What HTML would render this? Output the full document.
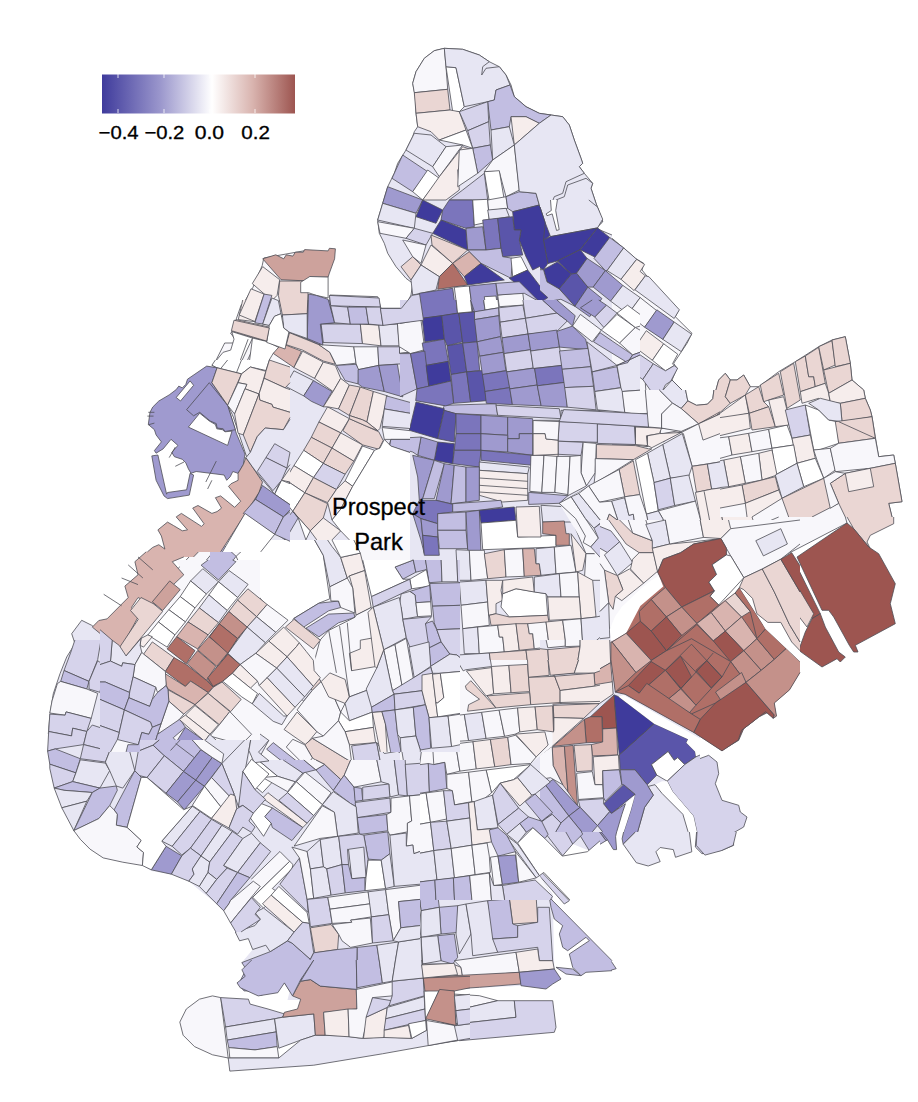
<!DOCTYPE html>
<html><head><meta charset="utf-8"><title>Map</title>
<style>
html,body{margin:0;padding:0;background:#fff;}
body{width:918px;height:1102px;overflow:hidden;position:relative;font-family:"Liberation Sans",sans-serif;}
svg{position:absolute;left:0;top:0;}
svg polygon,svg polyline,svg path{stroke:#4e4e55;stroke-width:0.8;stroke-linejoin:round;}
.t{font-family:"Liberation Sans",sans-serif;fill:#000;stroke:#000;stroke-width:0.3;}
</style></head><body>
<svg width="918" height="1102" viewBox="0 0 918 1102">
<defs><linearGradient id="lg" x1="0" x2="1" y1="0" y2="0">
<stop offset="0" stop-color="#3f3b9c"/><stop offset="0.3" stop-color="#9a96cc"/><stop offset="0.57" stop-color="#ffffff"/><stop offset="0.78" stop-color="#d9b4af"/><stop offset="1" stop-color="#9d5550"/>
</linearGradient></defs>
<g id="map">
<polygon points="444.3,48.3 462.7,49.3 479.3,55.0 489.3,61.7 499.3,66.7 506.0,75.0 511.0,85.0 514.3,96.7 526.0,106.7 539.3,113.3 551.0,115.0 562.7,116.7 569.3,125.0 574.3,140.0 581.0,158.3 582.7,163.3 579.3,166.7 584.3,173.3 592.7,183.3 591.0,188.3 596.0,203.3 602.7,221.7 596.0,228.3 612.0,235.0 612.0,367.0 306.0,367.0 306.0,343.3 322.7,343.3 321.0,320.0 330.0,315.0 330.0,295.0 377.7,296.7 381.0,308.3 401.0,308.3 406.0,305.0 411.0,295.0 412.7,283.3 406.0,278.3 396.0,266.7 387.7,253.3 384.3,243.3 379.3,233.3 377.7,220.0 382.7,203.3 387.7,186.7 394.3,173.3 397.7,163.3 406.0,150.0 412.7,136.7 414.3,131.7 417.7,126.7 416.0,113.3 415.3,96.7 412.7,83.3 416.0,71.7 424.3,58.3 434.3,50.7" fill="#e7e6f3" style="stroke:none"/>
<path d="M444.3,48.3L462.7,49.3L479.3,55.0L489.3,61.7L499.3,66.7L506.0,75.0L511.0,85.0L514.3,96.7L526.0,106.7L539.3,113.3L551.0,115.0L562.7,116.7L569.3,125.0L574.3,140.0L581.0,158.3L582.7,163.3L579.3,166.7L584.3,173.3L592.7,183.3L591.0,188.3L596.0,203.3L602.7,221.7L596.0,228.3L612.0,235.0M306.0,343.3L322.7,343.3L321.0,320.0L330.0,315.0L330.0,295.0L377.7,296.7L381.0,308.3L401.0,308.3L406.0,305.0L411.0,295.0L412.7,283.3L406.0,278.3L396.0,266.7L387.7,253.3L384.3,243.3L379.3,233.3L377.7,220.0L382.7,203.3L387.7,186.7L394.3,173.3L397.7,163.3L406.0,150.0L412.7,136.7L414.3,131.7L417.7,126.7L416.0,113.3L415.3,96.7L412.7,83.3L416.0,71.7L424.3,58.3L434.3,50.7L444.3,48.3" fill="none"/>
<polygon points="612.0,238.3 622.0,246.7 635.3,258.3 643.7,263.3 642.0,270.0 648.7,278.3 643.7,283.3 678.7,310.0 675.3,316.7 692.0,333.3 687.0,343.3 673.7,363.3 677.0,368.3 672.0,380.0 685.3,393.3 680.3,406.7 687.0,401.7 693.7,406.7 705.3,406.7 713.7,398.3 718.7,380.0 725.3,373.3 730.3,380.0 737.0,380.0 743.7,375.0 750.3,386.7 758.7,386.7 778.7,371.7 795.3,361.7 818.7,346.7 832.0,340.0 845.3,336.7 850.3,363.3 852.0,380.0 863.7,390.0 865.3,398.3 870.3,410.0 872.0,416.7 875.3,436.7 878.7,456.7 893.7,455.0 895.3,463.3 902.0,501.7 888.7,503.3 892.0,517.0 612.0,517.0" fill="#f8f7fb" style="stroke:none"/>
<path d="M612.0,238.3L622.0,246.7L635.3,258.3L643.7,263.3L642.0,270.0L648.7,278.3L643.7,283.3L678.7,310.0L675.3,316.7L692.0,333.3L687.0,343.3L673.7,363.3L677.0,368.3L672.0,380.0L685.3,393.3L680.3,406.7L687.0,401.7L693.7,406.7L705.3,406.7L713.7,398.3L718.7,380.0L725.3,373.3L730.3,380.0L737.0,380.0L743.7,375.0L750.3,386.7L758.7,386.7L778.7,371.7L795.3,361.7L818.7,346.7L832.0,340.0L845.3,336.7L850.3,363.3L852.0,380.0L863.7,390.0L865.3,398.3L870.3,410.0L872.0,416.7L875.3,436.7L878.7,456.7L893.7,455.0L895.3,463.3L902.0,501.7L888.7,503.3L892.0,517.0" fill="none"/>
<polygon points="612.0,517.0 893.7,517.0 893.7,523.7 870.3,535.3 847.0,523.0 768.7,563.7 743.7,578.7 727.0,553.7 722.0,538.7 695.3,543.7 663.7,558.7 657.0,577.0 612.0,602.0" fill="#f8f7fb" style="stroke:none"/>
<polygon points="213.3,367.0 306.0,367.0 306.0,734.0 48.3,734.0 50.0,713.7 53.3,693.7 60.0,673.7 66.7,657.0 75.0,643.7 71.7,633.7 81.7,620.3 91.7,625.3 115.0,643.7 125.0,643.7 136.7,625.3 146.7,613.7 153.3,605.3 166.7,588.7 181.7,568.7 213.3,552.0 220.0,543.7 233.3,523.7 245.0,513.7 255.0,500.3 261.7,483.7 246.7,457.0 233.3,417.0 220.0,387.0" fill="#e7e6f3" style="stroke:none"/>
<path d="M48.3,734.0L50.0,713.7L53.3,693.7L60.0,673.7L66.7,657.0L75.0,643.7L71.7,633.7L81.7,620.3L91.7,625.3L115.0,643.7L125.0,643.7L136.7,625.3L146.7,613.7L153.3,605.3L166.7,588.7L181.7,568.7L213.3,552.0L220.0,543.7L233.3,523.7L245.0,513.7L255.0,500.3L261.7,483.7L246.7,457.0L233.3,417.0L220.0,387.0L213.3,367.0" fill="none"/>
<polygon points="263.8,258.0 305.7,250.5 305.7,366.3 213.0,366.3 224.7,343.0 234.7,343.0 235.5,339.7 230.5,333.0 233.0,331.3 236.3,318.8 241.3,304.7 243.8,303.0 253.0,287.2 262.2,265.5" fill="#f8f7fb" style="stroke:none"/>
<path d="M263.8,258.0L305.7,250.5M213.0,366.3L224.7,343.0L234.7,343.0L235.5,339.7L230.5,333.0L233.0,331.3L236.3,318.8L241.3,304.7L243.8,303.0L253.0,287.2L262.2,265.5L263.8,258.0" fill="none"/>
<polygon points="173.3,573.7 200.0,545.3 213.3,552.0 181.7,588.7" fill="#f8f7fb"/>
<polygon points="444.3,48.3 434.3,50.7 424.3,58.3 416.0,71.7 412.7,83.3 414.3,92.7 447.7,89.3 446.0,66.7" fill="#f8f7fb"/>
<polygon points="414.3,92.7 447.7,89.3 450.0,110.0 416.0,113.3" fill="#ead6d3"/>
<polygon points="446.0,66.7 456.0,67.7 464.3,106.7 459.3,111.7 452.7,111.7" fill="#ffffff"/>
<polygon points="444.3,48.3 462.7,49.3 479.3,55.0 489.3,61.7 482.7,66.7 481.7,75.0 486.0,68.3 499.3,66.7 506.0,75.0 510.0,85.0 496.0,90.0 494.3,100.0 487.7,101.7 464.3,106.7 456.0,67.7 446.0,66.7" fill="#e7e6f3"/>
<polygon points="496.0,90.0 510.0,85.0 514.3,96.7 526.0,106.7 539.3,113.3 551.0,115.0 539.3,123.3 526.0,116.7 511.0,116.7 509.3,126.7 491.0,130.0 487.7,101.7 494.3,100.0" fill="#c2bee2"/>
<polygon points="511.0,116.7 526.0,116.7 539.3,123.3 514.3,145.0" fill="#f6edec"/>
<polygon points="416.0,113.3 450.0,110.0 459.3,111.7 466.0,130.0 439.3,140.0 431.0,131.7 417.7,126.7" fill="#f6edec"/>
<polygon points="459.3,111.7 487.7,101.7 488.7,121.7 467.7,130.7" fill="#d6d3eb"/>
<polygon points="467.7,130.7 488.7,121.7 490.3,145.0 472.7,148.3" fill="#d6d3eb"/>
<polygon points="472.7,148.3 490.3,145.0 492.7,160.0 477.7,173.3" fill="#c2bee2"/>
<polygon points="491.0,130.0 509.3,126.7 514.3,145.0 492.7,160.0" fill="#e7e6f3"/>
<polygon points="439.3,140.0 466.0,130.0 472.7,148.3 462.7,145.0" fill="#ffffff"/>
<polygon points="414.3,133.3 431.0,135.0 446.0,146.7 432.7,166.7 406.0,150.0" fill="#e7e6f3"/>
<polygon points="402.7,155.0 427.7,171.7 412.7,191.7 392.0,178.3" fill="#c2bee2"/>
<polygon points="387.7,186.7 422.7,200.0 416.0,213.3 382.7,203.3" fill="#9f9acf"/>
<polygon points="432.7,166.7 446.0,146.7 462.7,145.0 439.3,176.7" fill="#f8f7fb"/>
<polygon points="427.7,170.0 439.3,178.3 422.7,200.0 412.7,191.7" fill="#ffffff"/>
<polygon points="439.3,176.7 462.7,146.7 472.7,150.0 457.7,170.0 459.3,190.0 446.0,200.0 422.7,200.0" fill="#f6edec"/>
<polygon points="459.3,150.0 472.7,148.3 477.7,173.3 457.7,186.7" fill="#f8f7fb"/>
<polygon points="492.7,160.0 514.3,145.0 519.3,190.0 506.0,196.7 499.3,171.7 484.3,171.7" fill="#f8f7fb"/>
<polygon points="484.3,171.7 499.3,170.7 504.3,200.0 489.3,201.7" fill="#ffffff"/>
<polygon points="449.3,200.0 462.7,190.0 484.3,173.3 487.7,200.0 472.7,200.0" fill="#d6d3eb"/>
<polygon points="422.7,200.0 442.7,210.0 436.0,223.3 416.0,216.7" fill="#3f3b9c"/>
<polygon points="442.7,210.0 449.3,200.0 472.7,200.0 474.3,226.7 466.0,228.3 441.0,220.0" fill="#7b75bc"/>
<polygon points="441.0,220.0 466.0,230.0 467.7,250.0 432.7,233.3" fill="#3f3b9c"/>
<polygon points="472.7,200.0 487.7,199.3 489.3,221.7 474.3,225.0" fill="#ffffff"/>
<polygon points="487.7,200.0 506.0,196.7 507.7,208.3 488.7,210.7" fill="#f8f7fb"/>
<polygon points="487.7,210.0 506.0,208.3 509.3,216.7 489.3,220.0" fill="#e7e6f3"/>
<polygon points="506.0,196.7 519.3,191.7 536.0,193.3 539.3,205.0 512.7,211.7 507.7,208.3" fill="#c2bee2"/>
<polygon points="512.7,211.7 539.3,205.0 546.0,216.7 552.7,233.3 544.3,240.0 546.0,263.3 532.7,270.0 526.0,256.7 519.3,240.0 521.0,230.0 514.3,230.0" fill="#3f3b9c"/>
<polygon points="466.0,228.3 482.7,226.7 486.0,250.0 467.7,250.0" fill="#9f9acf"/>
<polygon points="482.7,220.0 497.7,218.3 501.0,248.3 486.0,250.0" fill="#7b75bc"/>
<polygon points="497.7,218.3 512.7,216.7 514.3,230.0 521.0,230.0 519.3,240.0 522.7,255.0 502.7,256.7 501.0,248.3" fill="#5a55aa"/>
<polygon points="382.7,203.3 416.0,213.3 414.3,228.3 377.7,220.0" fill="#e7e6f3"/>
<polygon points="377.7,221.7 414.3,228.3 406.0,238.3 380.0,233.3" fill="#f8f7fb"/>
<polygon points="414.3,228.3 432.7,233.3 426.0,245.0 406.0,238.3" fill="#d6d3eb"/>
<polygon points="402.7,240.0 426.0,245.0 421.0,263.3 412.7,256.7" fill="#f8f7fb"/>
<polygon points="401.0,266.7 412.7,256.7 421.0,265.0 411.0,280.0" fill="#ead6d3"/>
<polygon points="421.0,265.0 431.0,245.0 452.7,263.3 439.3,276.7" fill="#f6edec"/>
<polygon points="431.0,235.0 467.7,250.0 452.7,263.3 432.0,245.0" fill="#ead6d3"/>
<polygon points="452.7,263.3 469.3,251.7 481.0,263.3 464.3,276.7" fill="#d9b4af"/>
<polygon points="439.3,276.7 452.7,263.3 467.7,285.0 437.7,289.3" fill="#b06f67"/>
<polygon points="411.0,280.0 421.0,265.0 439.3,276.7 436.0,290.0 412.7,295.0" fill="#e7e6f3"/>
<polygon points="464.3,276.7 481.0,263.3 504.3,280.0 467.7,285.0" fill="#3f3b9c"/>
<polygon points="467.7,250.0 486.0,250.0 501.0,248.3 502.7,256.7 512.7,258.3 511.0,278.3 481.0,263.3" fill="#c2bee2"/>
<polygon points="511.0,258.3 521.0,256.7 527.7,270.0 512.7,276.7" fill="#ffffff"/>
<polygon points="509.3,278.3 527.7,270.0 549.3,298.3 539.3,301.7" fill="#3f3b9c"/>
<polygon points="539.3,123.3 551.0,115.0 562.7,116.7 569.3,125.0 574.3,140.0 581.0,158.3 582.7,163.3 579.3,166.7 584.3,173.3 566.0,181.7 562.7,193.3 554.3,196.7 551.0,205.0 549.3,213.3 546.0,216.7 539.3,205.0 536.0,193.3 519.3,191.7 514.3,145.0" fill="#e7e6f3"/>
<polygon points="556.0,200.0 564.3,196.7 567.7,185.0 586.0,178.3 592.7,183.3 591.0,188.3 596.0,203.3 602.7,221.7 596.0,228.3 552.7,233.3 552.7,213.3" fill="#e7e6f3"/>
<polygon points="419.3,293.3 452.7,288.3 456.0,313.3 421.0,318.3" fill="#7b75bc"/>
<polygon points="454.3,287.3 469.3,286.0 472.7,311.7 457.7,313.3" fill="#ffffff"/>
<polygon points="469.3,286.0 496.0,283.3 497.7,301.7 484.3,302.7 485.3,310.0 472.7,311.7" fill="#9f9acf"/>
<polygon points="484.3,296.7 496.0,296.0 497.7,308.3 486.0,309.3" fill="#ffffff"/>
<polygon points="497.7,295.0 522.7,292.7 524.3,305.0 499.3,306.7" fill="#f8f7fb"/>
<polygon points="496.0,283.3 519.3,281.7 539.3,301.7 524.3,293.3 497.7,295.0" fill="#c2bee2"/>
<polygon points="306.0,367.0 612.0,367.0 612.0,734.0 306.0,734.0" fill="#e7e6f3" style="stroke:none"/>
<polygon points="444.3,405.3 496.0,403.7 497.7,415.3 456.0,413.7 442.7,410.3" fill="#c2bee2"/>
<polygon points="496.0,405.3 559.3,408.7 561.0,418.7 497.7,415.3" fill="#d6d3eb"/>
<polygon points="561.0,410.3 599.3,410.3 599.3,420.3 561.0,418.7" fill="#d6d3eb"/>
<polygon points="599.3,410.3 612.0,410.3 612.0,427.0 599.3,425.3" fill="#e7e6f3" style="stroke:none"/>
<path d="M599.3,410.3L612.0,410.3M612.0,427.0L599.3,425.3L599.3,410.3" fill="none"/>
<polygon points="416.0,402.0 444.3,408.7 437.7,438.7 409.3,430.3" fill="#3f3b9c"/>
<polygon points="444.3,410.3 456.0,413.7 454.3,442.0 437.7,438.7" fill="#5a55aa"/>
<polygon points="456.0,413.7 481.0,415.3 481.0,433.7 456.0,433.7" fill="#7b75bc"/>
<polygon points="456.0,433.7 481.0,433.7 481.0,450.3 454.3,450.3" fill="#7b75bc"/>
<polygon points="437.7,442.0 454.3,443.7 452.7,463.7 434.3,460.3" fill="#3f3b9c"/>
<polygon points="421.0,437.0 437.7,442.0 434.3,460.3 417.7,455.3" fill="#9f9acf"/>
<polygon points="391.0,438.7 421.0,437.0 417.7,455.3 412.7,452.0 389.3,445.3" fill="#c2bee2"/>
<polygon points="454.3,450.3 481.0,450.3 479.3,467.0 452.7,463.7" fill="#7b75bc"/>
<polygon points="481.0,415.3 507.7,417.0 507.7,435.3 481.0,433.7" fill="#9f9acf"/>
<polygon points="507.7,417.0 532.7,418.7 532.7,433.7 519.3,433.7 519.3,438.7 507.7,438.7" fill="#9f9acf"/>
<polygon points="481.0,433.7 507.7,435.3 507.7,452.0 481.0,450.3" fill="#9f9acf"/>
<polygon points="507.7,438.7 519.3,438.7 519.3,433.7 532.7,433.7 532.7,455.3 507.7,452.0" fill="#9f9acf"/>
<polygon points="481.0,450.3 532.7,455.3 532.7,465.3 481.0,460.3" fill="#7b75bc"/>
<polygon points="479.3,462.0 529.3,467.0 527.7,473.7 479.3,470.3" fill="#e7e6f3"/>
<polygon points="479.3,470.3 527.7,473.7 527.7,500.3 502.7,502.0 479.3,495.3" fill="#f6edec"/>
<polyline points="479.3,478.0 527.7,481.3" fill="none"/>
<polyline points="479.3,485.3 527.7,488.7" fill="none"/>
<polyline points="479.3,492.0 527.7,495.3" fill="none"/>
<polygon points="534.3,420.3 559.3,420.3 559.3,433.7 551.0,433.7 551.0,438.7 534.3,438.7" fill="#f8f7fb"/>
<polygon points="534.3,438.7 551.0,438.7 551.0,433.7 559.3,433.7 557.7,463.7 532.7,462.0" fill="#f6edec"/>
<polygon points="532.7,463.7 557.7,463.7 556.0,492.0 531.0,492.0" fill="#f8f7fb"/>
<polyline points="544.3,463.7 542.7,492.0" fill="none"/>
<polygon points="561.0,420.3 599.3,420.3 599.3,442.0 561.0,440.3" fill="#e7e6f3"/>
<polygon points="412.7,455.3 434.3,460.3 422.7,498.7 419.3,500.3 417.7,477.0" fill="#9f9acf"/>
<polygon points="434.3,460.3 444.3,463.7 434.3,498.7 422.7,498.7" fill="#c2bee2"/>
<polygon points="444.3,463.7 454.3,465.3 451.0,503.7 436.0,500.3" fill="#9f9acf"/>
<polygon points="454.3,465.3 466.0,467.0 466.0,502.0 451.0,503.7" fill="#c2bee2"/>
<polygon points="466.0,467.0 479.3,467.0 479.3,500.3 466.0,502.0" fill="#9f9acf"/>
<polygon points="419.3,500.3 436.0,500.3 452.7,504.3 452.7,512.0 437.7,513.7 437.7,523.7 421.0,518.7 412.7,513.7" fill="#7b75bc"/>
<polygon points="452.7,503.7 501.0,500.3 502.7,507.0 479.3,510.3 452.7,512.0" fill="#c2bee2"/>
<polygon points="412.7,513.7 421.0,518.7 422.7,537.0 424.3,553.7 421.0,540.3" fill="#9f9acf"/>
<polygon points="421.0,518.7 437.7,523.7 437.7,537.0 422.7,535.3" fill="#9f9acf"/>
<polygon points="422.7,535.3 437.7,537.0 439.3,555.3 424.3,555.3" fill="#7b75bc"/>
<polygon points="437.7,513.7 466.0,512.0 466.0,530.3 437.7,530.3" fill="#c2bee2"/>
<polygon points="437.7,530.3 466.0,530.3 467.7,548.7 439.3,548.7" fill="#c2bee2"/>
<polygon points="466.0,512.0 479.3,510.3 481.0,552.0 467.7,550.3" fill="#9f9acf"/>
<polygon points="479.3,510.3 514.3,507.0 516.0,520.3 481.0,523.0" fill="#3f3b9c"/>
<polygon points="481.0,523.0 516.0,520.3 517.7,537.0 556.0,535.3 556.0,547.0 482.7,549.7" fill="#ffffff"/>
<polygon points="516.0,507.0 539.3,506.3 541.0,537.0 517.7,537.0" fill="#f6edec"/>
<polygon points="541.0,505.3 569.3,507.0 572.7,522.0 542.7,522.0" fill="#e7e6f3"/>
<polygon points="542.7,522.0 564.3,521.0 566.0,533.7 569.3,533.7 569.3,545.3 556.0,545.3 556.0,535.3 542.7,533.7" fill="#c4918a"/>
<polygon points="559.3,503.7 579.3,492.0 612.0,473.7 612.0,533.7 599.3,553.7 586.0,553.7 572.7,522.0 569.3,507.0" fill="#f8f7fb" style="stroke:none"/>
<path d="M559.3,503.7L579.3,492.0L612.0,473.7M612.0,533.7L599.3,553.7L586.0,553.7L572.7,522.0L569.3,507.0L559.3,503.7" fill="none"/>
<polyline points="572.7,500.3 582.7,520.3 592.7,513.7 599.3,523.7 612.0,513.7" fill="none"/>
<polygon points="456.0,549.7 469.3,550.3 471.0,580.3 457.7,580.3" fill="#e7e6f3"/>
<polygon points="469.3,550.3 484.3,550.3 487.7,578.7 471.0,580.3" fill="#f8f7fb"/>
<polygon points="484.3,553.7 504.3,549.7 506.0,577.0 487.7,578.7" fill="#ead6d3"/>
<polygon points="504.3,549.7 522.7,548.7 524.3,576.3 506.0,577.0" fill="#f8f7fb"/>
<polygon points="522.7,548.7 534.3,548.7 536.0,563.7 539.3,563.7 541.0,575.3 524.3,576.3" fill="#d9b4af"/>
<polygon points="536.0,548.7 554.3,547.0 556.0,573.7 541.0,575.3 539.3,563.7 536.0,563.7" fill="#e7e6f3"/>
<polygon points="554.3,547.0 571.0,545.3 576.0,572.0 556.0,573.7" fill="#f8f7fb"/>
<polygon points="571.0,533.7 586.0,553.7 582.7,570.3 576.0,572.0" fill="#f6edec"/>
<polygon points="586.0,553.7 599.3,553.7 604.3,580.3 584.3,580.3" fill="#f8f7fb"/>
<polygon points="459.3,582.0 486.0,580.3 487.7,602.0 461.0,605.3" fill="#e7e6f3"/>
<polygon points="461.0,605.3 487.7,602.0 489.3,625.3 462.7,628.7" fill="#f8f7fb"/>
<polygon points="486.0,580.3 502.7,580.3 501.0,590.3 502.7,600.3 496.0,603.7 496.0,613.7 488.7,615.3" fill="#f6edec"/>
<polygon points="502.7,593.7 516.0,588.7 546.0,593.7 547.7,615.3 509.3,617.0 501.0,607.0" fill="#ffffff"/>
<polygon points="502.7,580.3 532.7,577.0 534.3,592.0 516.0,588.7 502.7,593.7" fill="#f6edec"/>
<polygon points="534.3,577.0 559.3,573.7 561.0,597.0 547.7,597.0 546.0,593.7 534.3,592.0" fill="#e7e6f3"/>
<polygon points="559.3,573.7 577.7,572.0 579.3,597.0 561.0,597.0" fill="#f8f7fb"/>
<polygon points="577.7,572.0 592.7,580.3 596.0,617.0 581.0,618.7 579.3,597.0" fill="#f6edec"/>
<polygon points="489.3,615.3 496.0,613.7 509.3,617.0 547.7,615.3 549.3,623.7 491.0,625.3" fill="#ead6d3"/>
<polygon points="547.7,597.0 579.3,597.0 581.0,618.7 549.3,620.3" fill="#f6edec"/>
<polygon points="462.7,628.7 477.7,627.0 479.3,653.7 464.3,653.7" fill="#e7e6f3"/>
<polygon points="477.7,627.0 497.7,625.3 499.3,637.0 502.7,637.0 504.3,652.0 479.3,653.7" fill="#f8f7fb"/>
<polygon points="497.7,625.3 516.0,623.7 519.3,650.3 504.3,652.0 502.7,637.0 499.3,637.0" fill="#f6edec"/>
<polygon points="516.0,623.7 527.7,623.7 529.3,633.7 532.7,633.7 534.3,648.7 519.3,650.3" fill="#ead6d3"/>
<polygon points="527.7,623.7 546.0,622.0 549.3,647.0 534.3,648.7 532.7,633.7 529.3,633.7" fill="#f8f7fb"/>
<polygon points="546.0,622.0 562.7,620.3 566.0,645.3 549.3,647.0" fill="#f6edec"/>
<polygon points="562.7,620.3 581.0,618.7 582.7,643.7 566.0,645.3" fill="#f8f7fb"/>
<polygon points="581.0,618.7 596.0,617.0 612.0,613.7 612.0,627.0 592.7,643.7 582.7,643.7" fill="#e7e6f3" style="stroke:none"/>
<path d="M581.0,618.7L596.0,617.0L612.0,613.7M612.0,627.0L592.7,643.7L582.7,643.7L581.0,618.7" fill="none"/>
<polygon points="452.7,655.3 489.3,653.0 491.0,665.3 462.7,668.7" fill="#e7e6f3"/>
<polygon points="489.3,653.0 526.0,650.3 527.7,663.7 491.0,665.3" fill="#ead6d3"/>
<polygon points="526.0,650.3 549.3,648.7 551.0,675.3 529.3,677.0 527.7,663.7" fill="#ead6d3"/>
<polygon points="529.3,677.0 559.3,675.3 561.0,703.7 532.7,703.7 531.0,695.3" fill="#ead6d3"/>
<polygon points="306.0,734.0 612.0,734.0 612.0,837.3 589.3,850.7 572.7,844.0 562.7,855.7 526.0,844.0 519.3,849.0 552.7,894.0 554.3,969.0 561.0,979.0 521.0,985.7 426.0,990.7 426.0,1044.0 306.0,1064.0" fill="#e7e6f3" style="stroke:none"/>
<polygon points="389.3,799.0 409.3,795.7 412.7,827.3 402.7,827.3 402.7,814.0 389.3,815.7" fill="#f8f7fb"/>
<polygon points="387.7,830.7 402.7,827.3 402.7,814.0 412.7,814.0 414.3,844.0 404.3,845.7 404.3,867.3 394.3,869.0 391.0,852.3" fill="#f6edec"/>
<polygon points="509.3,897.3 536.0,894.0 537.7,922.3 512.7,924.0" fill="#ead6d3"/>
<polygon points="417.7,882.3 436.0,880.7 439.3,907.3 421.0,910.7" fill="#c2bee2"/>
<polygon points="439.3,907.3 457.7,905.7 459.3,932.3 441.0,934.0" fill="#c2bee2"/>
<polygon points="421.0,910.7 439.3,907.3 441.0,934.0 421.0,937.3" fill="#e7e6f3"/>
<polygon points="457.7,905.7 466.0,904.0 471.0,934.0 459.3,954.0 456.0,934.0" fill="#e7e6f3"/>
<polygon points="466.0,904.0 487.7,900.7 497.7,952.3 472.7,955.7 471.0,934.0" fill="#e7e6f3"/>
<polygon points="487.7,900.7 509.3,899.0 512.7,924.0 517.7,925.7 517.7,937.3 492.7,939.0" fill="#c2bee2"/>
<polygon points="517.7,925.7 537.7,922.3 537.7,907.3 549.3,907.3 551.0,934.0 552.7,960.7 539.3,960.7 537.7,947.3 497.7,952.3 492.7,939.0 517.7,937.3" fill="#d6d3eb"/>
<polygon points="437.7,935.7 454.3,934.0 457.7,957.3 452.7,964.0 441.0,960.7" fill="#c2bee2"/>
<polygon points="421.0,937.3 437.7,935.7 441.0,960.7 422.7,964.0" fill="#e7e6f3"/>
<polygon points="422.7,964.0 452.7,964.0 461.0,967.3 462.7,977.3 422.7,977.3" fill="#f6edec"/>
<polygon points="454.3,960.7 516.0,952.3 519.3,972.3 462.7,977.3 461.0,967.3" fill="#f8f7fb"/>
<polygon points="516.0,952.3 537.7,949.0 539.3,960.7 552.7,960.7 554.3,969.0 519.3,972.3" fill="#f6edec"/>
<polygon points="422.7,977.3 519.3,972.3 521.0,984.0 479.3,987.3 452.7,989.0 426.0,990.7" fill="#cda29c"/>
<polygon points="519.3,972.3 554.3,969.0 561.0,979.0 552.7,984.0 546.0,989.0 521.0,985.7" fill="#9f9acf"/>
<polygon points="556.0,967.3 572.7,969.0 581.0,975.7 566.0,974.0" fill="#c2bee2"/>
<polygon points="386.0,887.3 417.7,882.3 421.0,910.7 419.3,925.7 402.7,927.3 399.3,900.7 389.3,915.7" fill="#f8f7fb"/>
<polygon points="399.3,900.7 417.7,897.3 419.3,925.7 402.7,927.3" fill="#c2bee2"/>
<polygon points="389.3,915.7 402.7,927.3 419.3,925.7 421.0,937.3 392.7,940.7" fill="#e7e6f3"/>
<polygon points="399.3,940.7 421.0,937.3 422.7,979.0 391.0,980.7" fill="#e7e6f3"/>
<polygon points="439.3,990.7 449.3,989.0 454.3,1025.7 426.0,1017.3" fill="#cda29c"/>
<polygon points="426.0,1017.3 454.3,1025.7 457.7,1040.7 427.7,1044.0" fill="#f8f7fb"/>
<polygon points="452.7,994.0 479.3,995.7 497.7,1000.7 454.3,1010.7" fill="#f8f7fb"/>
<polygon points="454.3,1010.7 497.7,1000.7 514.3,1000.7 516.0,1017.3 456.0,1024.0" fill="#e7e6f3"/>
<polygon points="456.0,1024.0 516.0,1017.3 514.3,1000.7 552.7,1000.7 556.0,1027.3 554.3,1032.3 459.3,1040.7" fill="#d6d3eb"/>
<polygon points="514.3,844.0 519.3,849.0 569.3,900.7 564.3,904.0 539.3,875.7" fill="#d6d3eb"/>
<polygon points="549.3,897.3 612.0,960.7 612.0,970.7 586.0,972.3 581.0,975.7 572.7,967.3 569.3,954.0 589.3,940.7 586.0,937.3 567.7,950.7 562.7,947.3 559.3,934.0 562.7,925.7 554.3,919.0 551.0,907.3" fill="#c2bee2" style="stroke:none"/>
<path d="M549.3,897.3L612.0,960.7M612.0,970.7L586.0,972.3L581.0,975.7L572.7,967.3L569.3,954.0L589.3,940.7L586.0,937.3L567.7,950.7L562.7,947.3L559.3,934.0L562.7,925.7L554.3,919.0L551.0,907.3L549.3,897.3" fill="none"/>
<polygon points="596.0,827.3 612.0,817.3 612.0,837.3 606.0,840.7" fill="#9f9acf" style="stroke:none"/>
<path d="M596.0,827.3L612.0,817.3M612.0,837.3L606.0,840.7L596.0,827.3" fill="none"/>
<polygon points="571.0,820.7 579.3,814.0 596.0,827.3 606.0,840.7 589.3,850.7" fill="#c2bee2"/>
<polygon points="557.7,825.7 571.0,815.7 582.7,834.0 572.7,844.0" fill="#c2bee2"/>
<polygon points="539.3,817.3 552.7,809.0 572.7,844.0 562.7,855.7 546.0,834.0" fill="#d6d3eb"/>
<polygon points="672.0,380.0 685.3,393.3 680.3,408.3 660.3,393.3" fill="#e7e6f3"/>
<polygon points="645.3,383.3 660.3,393.3 672.0,405.0 662.0,416.7 660.3,426.7 648.7,426.7" fill="#f8f7fb"/>
<polygon points="672.0,405.0 680.3,408.3 697.0,423.3 682.0,430.0 662.0,428.3 662.0,416.7" fill="#f8f7fb"/>
<polygon points="612.0,415.0 648.7,413.3 648.7,425.0 612.0,426.7" fill="#d6d3eb" style="stroke:none"/>
<path d="M612.0,415.0L648.7,413.3L648.7,425.0L612.0,426.7" fill="none"/>
<polygon points="612.0,426.7 635.3,425.0 635.3,445.0 612.0,445.0" fill="#d6d3eb" style="stroke:none"/>
<path d="M612.0,426.7L635.3,425.0L635.3,445.0L612.0,445.0" fill="none"/>
<polygon points="635.3,426.7 660.3,426.7 660.3,436.7 647.0,436.7 647.0,446.7 635.3,445.0" fill="#f6edec"/>
<polygon points="647.0,436.7 682.0,430.0 667.0,440.0 647.0,446.7" fill="#f6edec"/>
<polygon points="680.3,408.3 687.0,401.7 693.7,406.7 705.3,406.7 713.7,398.3 718.7,380.0 725.3,373.3 730.3,380.0 725.3,396.7 730.3,403.3 715.3,416.7 698.7,423.3" fill="#ead6d3"/>
<polygon points="725.3,396.7 730.3,380.0 737.0,380.0 743.7,375.0 750.3,386.7 745.3,395.0 730.3,403.3" fill="#ead6d3"/>
<polygon points="715.3,416.7 745.3,395.0 748.7,413.3 717.0,420.0" fill="#f6edec"/>
<polygon points="698.7,423.3 715.3,418.3 748.7,413.3 750.3,428.3 702.0,440.0" fill="#f6edec"/>
<polygon points="683.7,431.7 698.7,423.3 702.0,440.0 728.7,436.7 732.0,455.0 690.3,466.7" fill="#f8f7fb"/>
<polygon points="728.7,436.7 748.7,433.3 752.0,451.7 732.0,455.0" fill="#f6edec"/>
<polygon points="748.7,433.3 768.7,429.3 772.0,448.3 752.0,451.7" fill="#f8f7fb"/>
<polygon points="768.7,429.3 787.0,425.0 792.0,438.3 793.7,445.0 772.0,448.3" fill="#ffffff"/>
<polygon points="745.3,395.0 758.7,386.7 763.7,401.7 768.7,406.7 749.3,413.3" fill="#ead6d3"/>
<polygon points="749.3,413.3 768.7,406.7 775.3,426.7 752.0,430.0" fill="#ead6d3"/>
<polygon points="760.3,385.0 778.7,373.3 783.7,395.0 763.7,401.7" fill="#ead6d3"/>
<polygon points="768.7,400.0 783.7,396.7 787.0,410.0 788.7,425.0 775.3,426.7" fill="#f6edec"/>
<polygon points="780.3,371.7 793.7,363.3 800.3,400.0 787.0,408.3" fill="#ead6d3"/>
<polygon points="795.3,361.7 805.3,356.0 808.7,376.7 813.7,376.7 815.3,386.7 800.3,391.7" fill="#ead6d3"/>
<polygon points="805.3,356.0 818.7,347.3 825.3,383.3 815.3,386.7 813.7,376.7 808.7,376.7" fill="#ead6d3"/>
<polygon points="818.7,346.7 832.0,340.7 835.3,365.0 823.7,370.0" fill="#ead6d3"/>
<polygon points="832.0,340.0 845.3,336.7 850.3,363.3 835.3,366.7" fill="#ead6d3"/>
<polygon points="823.7,370.0 850.3,363.3 852.0,380.0 828.7,393.3" fill="#ead6d3"/>
<polygon points="800.3,391.7 825.3,383.3 828.7,393.3 830.3,403.3 820.3,403.3 818.7,398.3 802.0,403.3" fill="#f6edec"/>
<polygon points="828.7,393.3 852.0,380.0 863.7,390.0 865.3,398.3 840.3,403.3 830.3,401.7" fill="#f6edec"/>
<polygon points="840.3,403.3 865.3,398.3 870.3,410.0 872.0,416.7 842.0,421.7" fill="#ead6d3"/>
<polygon points="785.3,410.0 805.3,405.0 810.3,435.0 792.0,438.3" fill="#d6d3eb"/>
<polygon points="805.3,405.0 818.7,410.0 828.7,420.0 837.0,421.7 838.7,443.3 818.7,450.0 813.7,450.0" fill="#ffffff"/>
<polygon points="808.7,403.3 820.3,398.3 840.3,403.3 842.0,421.7 828.7,420.0 818.7,410.0" fill="#e7e6f3"/>
<polygon points="835.3,421.7 872.0,416.7 875.3,438.3 838.7,443.3" fill="#ead6d3"/>
<polyline points="838.7,421.7 875.3,438.3" fill="none"/>
<polygon points="792.0,438.3 810.3,435.0 815.3,458.3 797.0,463.3" fill="#f6edec"/>
<polygon points="813.7,450.0 830.3,448.3 835.3,470.0 823.7,478.3 817.0,460.0" fill="#f8f7fb"/>
<polygon points="830.3,448.3 838.7,443.3 875.3,438.3 878.7,456.7 893.7,455.0 895.3,463.3 870.3,468.3 835.3,471.7" fill="#f8f7fb"/>
<polygon points="772.0,448.3 793.7,445.0 797.0,463.3 775.3,475.0" fill="#ffffff"/>
<polygon points="758.7,453.3 772.0,450.0 777.0,475.0 762.0,480.0" fill="#f6edec"/>
<polygon points="740.3,456.7 758.7,453.3 762.0,480.0 745.3,483.3" fill="#f8f7fb"/>
<polygon points="723.7,460.0 740.3,456.7 745.3,483.3 728.7,486.7" fill="#f6edec"/>
<polygon points="707.0,463.3 723.7,460.0 728.7,486.7 712.0,488.3" fill="#e7e6f3"/>
<polygon points="690.3,466.7 707.0,463.3 712.0,488.3 693.7,493.3" fill="#ead6d3"/>
<polygon points="797.0,463.3 815.3,458.3 823.7,478.3 803.7,486.7" fill="#ffffff"/>
<polygon points="775.3,475.0 797.0,463.3 803.7,486.7 782.0,498.3" fill="#e7e6f3"/>
<polygon points="742.0,485.0 775.3,476.7 778.7,490.0 745.3,503.3" fill="#ead6d3"/>
<polygon points="715.3,490.0 742.0,485.0 745.3,503.3 718.7,508.3" fill="#f6edec"/>
<polygon points="745.3,503.3 778.7,490.0 782.0,498.3 752.0,517.0 747.0,517.0" fill="#f6edec" style="stroke:none"/>
<path d="M745.3,503.3L778.7,490.0L782.0,498.3L752.0,517.0M747.0,517.0L745.3,503.3" fill="none"/>
<polygon points="782.0,498.3 823.7,478.3 838.7,503.3 812.0,517.0 788.7,517.0" fill="#ead6d3" style="stroke:none"/>
<path d="M782.0,498.3L823.7,478.3L838.7,503.3L812.0,517.0M788.7,517.0L782.0,498.3" fill="none"/>
<polygon points="830.3,483.3 845.3,473.3 870.3,468.3 895.3,463.3 902.0,501.7 888.7,503.3 892.0,517.0 845.3,517.0 838.7,503.3" fill="#ead6d3" style="stroke:none"/>
<path d="M830.3,483.3L845.3,473.3L870.3,468.3L895.3,463.3L902.0,501.7L888.7,503.3L892.0,517.0M845.3,517.0L838.7,503.3L830.3,483.3" fill="none"/>
<polygon points="845.3,473.3 870.3,468.3 873.7,486.7 848.7,491.7" fill="#f6edec"/>
<polygon points="823.7,478.3 835.3,471.7 845.3,473.3 830.3,483.3 838.7,503.3 830.3,508.3" fill="#f8f7fb"/>
<polygon points="663.7,440.0 682.0,431.7 690.3,475.0 670.3,478.3" fill="#d6d3eb"/>
<polygon points="670.3,478.3 690.3,475.0 695.3,503.3 675.3,506.7" fill="#e7e6f3"/>
<polygon points="693.7,493.3 712.0,488.3 718.7,517.0 697.0,517.0" fill="#f8f7fb" style="stroke:none"/>
<path d="M693.7,493.3L712.0,488.3L718.7,517.0M697.0,517.0L693.7,493.3" fill="none"/>
<polygon points="658.7,510.0 695.3,503.3 697.0,517.0 660.3,517.0" fill="#ffffff" style="stroke:none"/>
<path d="M658.7,510.0L695.3,503.3L697.0,517.0M660.3,517.0L658.7,510.0" fill="none"/>
<polygon points="667.0,527.0 700.3,520.3 705.3,538.7 670.3,546.3" fill="#ffffff"/>
<polygon points="662.0,517.0 698.7,517.0 700.3,521.0 667.0,527.0" fill="#f8f7fb" style="stroke:none"/>
<path d="M698.7,517.0L700.3,521.0L667.0,527.0L662.0,517.0" fill="none"/>
<polygon points="700.3,517.0 722.0,517.0 725.3,537.0 705.3,539.7" fill="#f6edec" style="stroke:none"/>
<path d="M722.0,517.0L725.3,537.0L705.3,539.7L700.3,517.0" fill="none"/>
<polygon points="722.0,517.0 752.0,517.0 755.3,527.0 725.3,537.7" fill="#f6edec" style="stroke:none"/>
<path d="M752.0,517.0L755.3,527.0L725.3,537.7L722.0,517.0" fill="none"/>
<polygon points="755.3,527.0 778.7,517.0 845.3,517.0 847.0,523.0 768.7,563.7 755.3,538.7" fill="#f8f7fb" style="stroke:none"/>
<path d="M755.3,527.0L778.7,517.0M845.3,517.0L847.0,523.0L768.7,563.7L755.3,538.7L755.3,527.0" fill="none"/>
<polygon points="757.0,538.7 782.0,527.7 787.0,543.7 767.0,552.0" fill="#e7e6f3"/>
<polygon points="847.0,517.0 893.7,517.0 893.7,523.7 870.3,535.3 867.0,542.0 870.3,548.7 853.7,528.7" fill="#ead6d3" style="stroke:none"/>
<path d="M893.7,517.0L893.7,523.7L870.3,535.3L867.0,542.0L870.3,548.7L853.7,528.7L847.0,517.0" fill="none"/>
<polygon points="797.0,557.0 847.0,523.0 853.7,528.7 868.7,547.0 878.7,553.7 895.3,583.7 890.3,603.7 895.3,623.7 855.3,645.3 858.0,652.0 853.7,652.0 849.3,645.3 833.7,617.0 828.7,610.3 822.0,610.3" fill="#9d5550"/>
<polygon points="782.0,558.7 792.0,556.3 820.3,613.7 812.0,618.7" fill="#9d5550"/>
<polygon points="812.0,618.7 820.3,613.7 825.3,627.0 838.7,652.0 845.3,657.0 840.3,662.0 837.0,658.7 822.0,667.0 798.7,650.3 805.3,632.0" fill="#9d5550"/>
<polygon points="762.0,568.7 782.0,560.3 813.7,613.7 807.0,627.0" fill="#ead6d3"/>
<polygon points="693.7,730.3 708.7,717.0 747.0,683.7 768.7,712.0 758.7,717.0 743.7,728.7 738.7,740.3 722.0,750.3" fill="#9d5550"/>
<polygon points="667.0,782.0 683.7,765.3 695.3,760.3 708.7,755.3 717.0,762.0 718.7,773.7 715.3,783.7 722.0,800.3 738.7,805.3 740.3,812.0 747.0,817.0 743.7,827.0 732.0,833.7 733.7,845.3 722.0,850.3 702.0,853.7 695.3,847.0 697.0,827.0 687.0,808.7 672.0,793.7" fill="#d6d3eb"/>
<polygon points="540.0,640.0 700.0,640.0 700.0,831.9 540.0,831.9" fill="#e7e6f3" style="stroke:none"/>
<polygon points="546.1,640.0 565.3,640.0 565.3,646.1 547.8,647.8" fill="#f8f7fb" style="stroke:none"/>
<path d="M565.3,640.0L565.3,646.1L547.8,647.8L546.1,640.0" fill="none"/>
<polygon points="565.3,640.0 580.1,640.0 580.1,646.1 565.3,646.6" fill="#f8f7fb" style="stroke:none"/>
<path d="M580.1,640.0L580.1,646.1L565.3,646.6L565.3,640.0" fill="none"/>
<polygon points="540.0,648.7 547.8,649.6 549.6,674.9 540.0,676.6" fill="#ead6d3" style="stroke:none"/>
<path d="M540.0,648.7L547.8,649.6L549.6,674.9L540.0,676.6" fill="none"/>
<polygon points="547.8,649.6 580.1,646.6 577.5,662.7 573.1,673.1 549.6,674.9" fill="#ead6d3"/>
<polygon points="580.1,640.0 609.7,640.0 610.6,662.7 594.0,672.2 573.1,673.1 577.5,662.7 580.1,646.6" fill="#f6edec" style="stroke:none"/>
<path d="M609.7,640.0L610.6,662.7L594.0,672.2L573.1,673.1L577.5,662.7L580.1,646.6L580.1,640.0" fill="none"/>
<polygon points="554.8,677.5 593.2,674.0 594.9,687.1 556.6,689.7" fill="#ead6d3"/>
<polygon points="594.0,672.2 610.6,662.7 612.3,681.8 602.7,686.2 594.9,687.1" fill="#d9b4af"/>
<polygon points="540.0,676.6 554.8,675.7 556.6,689.7 560.0,690.5 560.9,703.6 540.0,705.4" fill="#ead6d3" style="stroke:none"/>
<path d="M540.0,676.6L554.8,675.7L556.6,689.7L560.0,690.5L560.9,703.6L540.0,705.4" fill="none"/>
<polygon points="560.0,690.5 612.3,681.8 613.2,694.0 599.3,703.6 560.9,703.6" fill="#f6edec"/>
<polygon points="553.1,705.4 599.3,703.6 583.6,718.4 553.9,717.6" fill="#ead6d3"/>
<polygon points="540.0,705.4 553.1,705.4 553.9,730.6 547.0,732.4 546.1,723.7 540.0,723.7" fill="#ead6d3" style="stroke:none"/>
<path d="M540.0,705.4L553.1,705.4L553.9,730.6L547.0,732.4L546.1,723.7L540.0,723.7" fill="none"/>
<polygon points="553.9,717.6 583.6,718.4 552.2,746.3 547.0,732.4 553.9,730.6" fill="#f6edec"/>
<polygon points="540.0,723.7 546.1,723.7 547.0,732.4 552.2,746.3 540.0,755.0" fill="#f8f7fb" style="stroke:none"/>
<path d="M540.0,723.7L546.1,723.7L547.0,732.4L552.2,746.3L540.0,755.0" fill="none"/>
<polygon points="590.5,716.7 614.1,694.9 616.7,728.0 602.7,728.9 601.9,716.7" fill="#9d5550"/>
<polygon points="584.4,719.3 590.5,716.7 601.9,716.7 602.7,742.0 586.2,742.8" fill="#b06f67"/>
<polygon points="553.1,746.3 584.4,719.3 586.2,742.8" fill="#c4918a"/>
<polygon points="602.7,728.9 616.7,728.0 617.6,755.0 592.3,755.9 591.4,744.6 602.7,742.0" fill="#d9b4af"/>
<polygon points="552.2,747.2 564.4,746.3 567.9,791.6 562.7,784.7 553.1,765.5" fill="#d9b4af"/>
<polygon points="564.4,746.3 573.1,745.4 577.5,805.6 567.9,791.6" fill="#c4918a"/>
<polygon points="574.0,745.4 591.4,744.6 592.3,755.9 592.3,770.7 576.6,771.6" fill="#ead6d3"/>
<polygon points="593.2,756.8 618.4,755.0 619.3,769.8 602.7,770.7 602.7,784.7 594.9,784.7" fill="#f6edec"/>
<polygon points="576.6,773.3 592.3,771.6 594.9,784.7 602.7,784.7 603.6,797.7 578.3,799.5" fill="#f8f7fb"/>
<polygon points="602.7,770.7 619.3,769.8 621.9,784.7 605.4,801.2 603.6,797.7" fill="#c2bee2"/>
<polygon points="603.6,803.8 623.7,784.7 635.0,794.2 611.5,813.4" fill="#5a55aa"/>
<polygon points="578.3,800.3 603.6,798.6 603.6,803.8 609.7,811.7 597.5,825.6 580.1,807.3" fill="#d6d3eb"/>
<polygon points="540.0,755.0 552.2,746.3 553.1,765.5 562.7,784.7 550.5,777.7 540.0,779.4" fill="#f8f7fb" style="stroke:none"/>
<path d="M540.0,755.0L552.2,746.3L553.1,765.5L562.7,784.7L550.5,777.7L540.0,779.4" fill="none"/>
<polygon points="614.1,694.9 618.4,696.6 654.2,723.7 644.6,732.4 619.3,755.0 616.7,728.0" fill="#3f3b9c"/>
<polygon points="619.3,755.0 644.6,732.4 654.2,723.7 688.1,739.3 686.4,742.8 695.1,751.5 696.0,756.8 684.7,764.6 677.7,757.6 674.2,760.3 668.1,751.5 651.5,764.6 656.8,775.1 647.2,784.7 635.0,769.8 620.2,769.8" fill="#5a55aa"/>
<polygon points="651.5,764.6 668.1,751.5 674.2,760.3 677.7,757.6 684.7,764.6 667.2,781.2 656.8,775.1" fill="#ffffff"/>
<polygon points="618.4,696.6 623.7,694.9 700.0,738.5 700.0,755.0 696.0,756.8 695.1,751.5 686.4,742.8 688.1,739.3 654.2,723.7" fill="#ffffff" style="stroke:none"/>
<polygon points="667.2,781.2 684.7,764.6 696.0,756.8 700.0,755.0 700.0,831.9 696.9,831.9 693.4,816.0 672.5,791.6" fill="#d6d3eb" style="stroke:none"/>
<path d="M667.2,781.2L684.7,764.6L696.0,756.8L700.0,755.0M696.9,831.9L693.4,816.0L672.5,791.6L667.2,781.2" fill="none"/>
<polygon points="655.0,784.7 662.0,781.2 667.2,781.2 672.5,791.6 693.4,816.0 696.9,831.9 688.1,831.9 682.9,814.3 662.0,793.4" fill="#ffffff" style="stroke:none"/>
<polygon points="637.6,831.9 644.6,807.3 653.3,795.1 648.1,786.4 655.0,784.7 662.0,793.4 682.9,814.3 688.1,831.9" fill="#e7e6f3" style="stroke:none"/>
<path d="M637.6,831.9L644.6,807.3L653.3,795.1L648.1,786.4L655.0,784.7L662.0,793.4L682.9,814.3L688.1,831.9" fill="none"/>
<polygon points="620.2,769.8 635.0,769.8 647.2,784.7 648.1,786.4 653.3,795.1 644.6,807.3 637.6,831.9 623.7,831.9 630.6,810.8 635.0,794.2 623.7,784.7 621.9,784.7" fill="#9f9acf" style="stroke:none"/>
<path d="M620.2,769.8L635.0,769.8L647.2,784.7L648.1,786.4L653.3,795.1L644.6,807.3L637.6,831.9M623.7,831.9L630.6,810.8L635.0,794.2L623.7,784.7L621.9,784.7L620.2,769.8" fill="none"/>
<polygon points="635.0,795.1 630.6,810.8 623.7,831.9 616.7,831.9 621.9,814.3 625.4,803.8" fill="#ffffff" style="stroke:none"/>
<polygon points="597.5,825.6 609.7,811.7 611.5,813.4 625.4,803.8 621.9,814.3 616.7,831.9 602.7,831.9" fill="#9f9acf" style="stroke:none"/>
<path d="M597.5,825.6L609.7,811.7L611.5,813.4L625.4,803.8L621.9,814.3L616.7,831.9M602.7,831.9L597.5,825.6" fill="none"/>
<polygon points="545.2,784.7 553.1,779.4 577.5,805.6 580.1,807.3 568.8,816.0" fill="#9f9acf"/>
<polygon points="540.0,779.4 545.2,784.7 540.0,788.1" fill="#d6d3eb" style="stroke:none"/>
<path d="M540.0,779.4L545.2,784.7L540.0,788.1" fill="none"/>
<polygon points="540.0,788.1 545.2,784.7 568.8,816.0 560.9,823.0 552.2,814.3 547.0,817.8 540.0,810.8" fill="#c2bee2" style="stroke:none"/>
<path d="M540.0,788.1L545.2,784.7L568.8,816.0L560.9,823.0L552.2,814.3L547.0,817.8L540.0,810.8" fill="none"/>
<polygon points="568.8,816.0 580.1,807.3 597.5,825.6 592.3,831.9 581.8,831.9" fill="#9f9acf" style="stroke:none"/>
<path d="M568.8,816.0L580.1,807.3L597.5,825.6L592.3,831.9M581.8,831.9L568.8,816.0" fill="none"/>
<polygon points="560.9,823.0 568.8,816.0 581.8,831.9 555.7,831.9" fill="#c2bee2" style="stroke:none"/>
<path d="M560.9,823.0L568.8,816.0L581.8,831.9M555.7,831.9L560.9,823.0" fill="none"/>
<polygon points="540.0,812.5 547.0,817.8 540.0,823.0" fill="#9f9acf" style="stroke:none"/>
<path d="M540.0,812.5L547.0,817.8L540.0,823.0" fill="none"/>
<polygon points="540.0,823.0 547.0,817.8 552.2,814.3 560.9,823.0 555.7,831.9 540.0,831.9" fill="#d6d3eb" style="stroke:none"/>
<path d="M540.0,823.0L547.0,817.8L552.2,814.3L560.9,823.0L555.7,831.9" fill="none"/>
<polygon points="540.0,200.0 588.8,200.0 597.5,207.0 602.7,219.2 597.5,227.9 550.5,236.6 545.2,222.7 540.0,207.0" fill="#e7e6f3" style="stroke:none"/>
<path d="M588.8,200.0L597.5,207.0L602.7,219.2L597.5,227.9L550.5,236.6L545.2,222.7L540.0,207.0" fill="none"/>
<polygon points="550.5,200.0 557.4,200.0 555.7,210.5 559.2,229.6 556.6,230.5 552.2,213.9 547.0,215.7 546.1,213.9 551.3,210.5" fill="#ffffff" style="stroke:none"/>
<path d="M557.4,200.0L555.7,210.5L559.2,229.6L556.6,230.5L552.2,213.9L547.0,215.7L546.1,213.9L551.3,210.5L550.5,200.0" fill="none"/>
<polygon points="543.5,240.1 550.5,236.6 597.5,227.9 580.1,249.7 557.4,261.0 547.8,263.6" fill="#3f3b9c"/>
<polygon points="580.1,249.7 597.5,227.9 609.7,237.5 595.8,257.5" fill="#3f3b9c"/>
<polygon points="557.4,261.0 580.1,249.7 587.1,258.4 576.6,273.2 571.4,274.1" fill="#3f3b9c"/>
<polygon points="543.5,269.7 557.4,261.9 571.4,274.1 559.2,288.9 547.0,281.9" fill="#3f3b9c"/>
<polygon points="540.0,207.0 545.2,222.7 543.5,240.1 547.8,263.6 543.5,269.7 540.0,268.0" fill="#3f3b9c" style="stroke:none"/>
<path d="M540.0,207.0L545.2,222.7L543.5,240.1L547.8,263.6L543.5,269.7L540.0,268.0" fill="none"/>
<polygon points="559.2,288.9 571.4,274.1 576.6,273.2 587.9,287.1 574.9,306.3" fill="#5a55aa"/>
<polygon points="576.6,273.2 587.1,258.4 605.4,270.6 593.2,287.1 587.9,287.1" fill="#9f9acf"/>
<polygon points="594.0,258.4 609.7,237.5 623.7,247.9 607.1,270.6 605.4,270.6" fill="#c2bee2"/>
<polygon points="607.1,270.6 623.7,247.9 636.7,259.3 621.0,279.3" fill="#e7e6f3"/>
<polygon points="621.0,279.3 636.7,259.3 644.6,264.5 640.2,271.5 645.4,275.8 634.1,290.6" fill="#f6edec"/>
<polygon points="635.0,289.8 645.4,275.8 648.9,276.7 679.4,309.8 674.2,318.5" fill="#e7e6f3"/>
<polygon points="593.2,287.1 605.4,270.6 622.8,285.4 610.6,301.1" fill="#9f9acf"/>
<polygon points="574.9,306.3 587.9,287.1 601.9,298.5 589.7,316.8" fill="#9f9acf"/>
<polygon points="610.6,301.1 622.8,285.4 640.2,297.6 628.0,314.2" fill="#e7e6f3"/>
<polygon points="628.0,314.2 640.2,297.6 656.8,310.7 644.6,327.2" fill="#f8f7fb"/>
<polygon points="644.6,327.2 656.8,309.8 674.2,322.0 662.9,339.4" fill="#9f9acf"/>
<polygon points="662.9,339.4 674.2,322.0 691.6,334.2 681.2,351.6" fill="#e7e6f3"/>
<polygon points="635.0,347.3 646.3,330.7 663.7,343.8 652.4,360.3" fill="#f6edec"/>
<polygon points="652.4,360.3 663.7,343.8 677.7,354.2 672.5,363.8 674.2,365.6 665.5,370.8" fill="#ffffff"/>
<polygon points="625.4,367.3 636.7,352.5 653.3,363.8 642.8,379.5" fill="#d6d3eb"/>
<polygon points="642.8,379.5 653.3,363.8 665.5,370.8 674.2,365.6 677.7,368.2 670.7,381.3 665.5,384.7 662.0,391.9 651.5,391.9" fill="#d6d3eb" style="stroke:none"/>
<path d="M642.8,379.5L653.3,363.8L665.5,370.8L674.2,365.6L677.7,368.2L670.7,381.3L665.5,384.7L662.0,391.9M651.5,391.9L642.8,379.5" fill="none"/>
<polygon points="540.0,269.7 543.5,269.7 547.0,281.9 559.2,288.9 574.9,306.3 560.9,299.3 540.0,302.8" fill="#c2bee2" style="stroke:none"/>
<path d="M540.0,269.7L543.5,269.7L547.0,281.9L559.2,288.9L574.9,306.3L560.9,299.3L540.0,302.8" fill="none"/>
<polygon points="540.0,290.6 547.8,297.6 540.0,302.8" fill="#3f3b9c" style="stroke:none"/>
<path d="M540.0,290.6L547.8,297.6L540.0,302.8" fill="none"/>
<polygon points="242.7,300.0 264.5,300.0 255.8,321.8 238.3,319.6" fill="#f6edec" style="stroke:none"/>
<path d="M264.5,300.0L255.8,321.8L238.3,319.6L242.7,300.0" fill="none"/>
<polygon points="264.5,300.0 273.2,300.0 263.4,324.0 255.8,321.8" fill="#c2bee2" style="stroke:none"/>
<path d="M273.2,300.0L263.4,324.0L255.8,321.8L264.5,300.0" fill="none"/>
<polygon points="273.2,300.0 279.7,300.0 284.1,315.3 275.4,317.4 268.8,325.1 263.4,324.0" fill="#e7e6f3" style="stroke:none"/>
<path d="M279.7,300.0L284.1,315.3L275.4,317.4L268.8,325.1L263.4,324.0L273.2,300.0" fill="none"/>
<polygon points="279.7,300.0 308.0,300.0 306.9,315.3 284.1,315.3" fill="#ead6d3" style="stroke:none"/>
<path d="M308.0,300.0L306.9,315.3L284.1,315.3L279.7,300.0" fill="none"/>
<polygon points="308.0,300.0 329.8,300.0 334.2,322.9 323.3,324.0 323.3,342.5 318.9,344.7 306.9,339.2 306.9,315.3" fill="#9f9acf" style="stroke:none"/>
<path d="M329.8,300.0L334.2,322.9L323.3,324.0L323.3,342.5L318.9,344.7L306.9,339.2L306.9,315.3L308.0,300.0" fill="none"/>
<polygon points="284.1,315.3 306.9,315.3 306.9,339.2 289.5,332.7 283.0,328.3" fill="#e7e6f3"/>
<polygon points="329.8,304.4 349.4,305.4 350.5,322.9 334.2,322.9" fill="#d6d3eb"/>
<polygon points="349.4,305.4 366.9,306.5 368.0,324.0 350.5,322.9" fill="#c2bee2"/>
<polygon points="366.9,306.5 379.9,307.6 382.1,325.1 368.0,324.0" fill="#d6d3eb"/>
<polygon points="379.9,308.7 399.5,308.7 410.0,305.4 410.0,322.9 382.1,325.1" fill="#d6d3eb" style="stroke:none"/>
<path d="M379.9,308.7L399.5,308.7L410.0,305.4M410.0,322.9L382.1,325.1L379.9,308.7" fill="none"/>
<polygon points="321.1,324.0 360.3,324.0 362.5,343.6 323.3,342.5" fill="#d6d3eb"/>
<polygon points="360.3,324.0 378.8,325.1 381.0,345.8 362.5,343.6" fill="#f6edec"/>
<polygon points="378.8,325.1 397.4,324.0 399.5,345.8 381.0,345.8" fill="#e7e6f3"/>
<polygon points="397.4,322.9 410.0,322.9 410.0,352.3 399.5,353.4" fill="#f8f7fb" style="stroke:none"/>
<path d="M397.4,322.9L410.0,322.9M410.0,352.3L399.5,353.4L397.4,322.9" fill="none"/>
<polygon points="236.1,319.6 269.9,327.2 266.6,341.4 231.8,331.6" fill="#ead6d3"/>
<polygon points="269.9,327.2 275.4,317.4 284.1,316.3 283.0,328.3 289.5,332.7 285.2,347.9 281.9,349.0 266.6,341.4" fill="#ffffff"/>
<polygon points="289.5,332.7 318.9,344.7 329.8,352.3 335.3,364.3 323.3,361.0 302.6,350.1 286.3,344.7" fill="#ead6d3"/>
<polygon points="318.9,344.7 353.8,346.8 356.0,363.2 336.4,365.4 329.8,352.3" fill="#f8f7fb"/>
<polygon points="353.8,346.8 377.8,346.8 378.8,365.4 358.1,369.7 356.0,363.2" fill="#f8f7fb"/>
<polygon points="377.8,346.8 399.5,346.8 399.5,353.4 410.0,352.3 410.0,363.2 378.8,365.4" fill="#d6d3eb" style="stroke:none"/>
<path d="M377.8,346.8L399.5,346.8L399.5,353.4L410.0,352.3M410.0,363.2L378.8,365.4L377.8,346.8" fill="none"/>
<polygon points="336.4,365.4 356.0,364.3 359.2,370.8 358.1,383.9 345.1,380.6" fill="#c2bee2"/>
<polygon points="358.1,369.7 378.8,365.4 384.3,391.5 362.5,387.1 358.1,383.9" fill="#9f9acf"/>
<polygon points="378.8,365.4 397.4,364.3 402.8,396.9 384.3,391.5" fill="#9f9acf"/>
<polygon points="231.8,331.6 252.5,338.1 225.3,395.9 218.7,367.5 212.2,365.4 223.1,352.3 230.7,350.1 234.0,339.2" fill="#ffffff"/>
<polyline points="248.1,339.2 236.1,371.9" fill="none"/>
<polyline points="256.8,340.3 240.5,375.2" fill="none"/>
<polygon points="252.5,338.1 266.6,341.4 281.9,349.0 273.2,353.4 263.4,369.7 249.2,363.2" fill="#ffffff"/>
<polygon points="273.2,353.4 281.9,343.6 301.5,351.2 293.9,367.5" fill="#d9b4af"/>
<polygon points="293.9,367.5 302.6,351.2 323.3,362.1 314.6,378.4" fill="#f6edec"/>
<polygon points="314.6,378.4 323.3,362.1 335.3,365.4 340.7,378.4 333.1,391.5" fill="#f6edec"/>
<polygon points="285.2,386.1 293.9,370.8 313.5,380.6 303.7,395.9" fill="#e7e6f3"/>
<polygon points="303.7,395.9 313.5,380.6 332.0,391.5 323.3,406.8 311.3,401.3" fill="#9f9acf"/>
<polygon points="281.9,523.3 287.3,517.9 292.8,511.3 298.2,517.9 285.2,539.9 275.4,533.1" fill="#c2bee2"/>
<polygon points="318.9,422.0 327.6,406.8 349.4,418.7 340.7,432.9" fill="#f6edec"/>
<polygon points="311.3,437.3 318.9,422.0 340.7,432.9 332.0,448.1" fill="#ead6d3"/>
<polygon points="303.7,450.3 311.3,437.3 332.0,448.1 323.3,463.4" fill="#ead6d3"/>
<polygon points="293.9,465.6 303.7,450.3 323.3,463.4 313.5,477.6" fill="#ffffff"/>
<polygon points="285.2,479.7 293.9,465.6 313.5,477.6 304.8,492.8" fill="#f6edec"/>
<polygon points="275.4,489.5 285.2,479.7 304.8,492.8 292.8,511.3" fill="#ffffff"/>
<polygon points="342.9,430.7 349.4,418.7 366.9,426.4 378.8,431.8 383.2,440.5 378.8,449.2 362.5,444.9" fill="#ead6d3"/>
<polygon points="332.0,448.1 340.7,432.9 362.5,444.9 353.8,461.2" fill="#f6edec"/>
<polygon points="323.3,463.4 332.0,448.1 353.8,461.2 345.1,474.3" fill="#ead6d3"/>
<polygon points="313.5,477.6 323.3,463.4 345.1,474.3 336.4,489.5" fill="#d6d3eb"/>
<polygon points="304.8,492.8 313.5,477.6 336.4,489.5 327.6,502.6" fill="#ead6d3"/>
<polygon points="292.8,511.3 304.8,492.8 327.6,503.7 323.3,517.9 310.2,530.9" fill="#ead6d3"/>
<polygon points="345.1,480.8 362.5,446.0 374.5,450.3 352.7,486.3" fill="#ffffff"/>
<polygon points="336.4,489.5 345.1,480.8 352.7,486.3 340.7,509.2 332.0,520.0 327.6,502.6" fill="#f6edec"/>
<polygon points="310.2,530.9 323.3,517.9 340.7,530.9 332.0,539.9 316.8,539.9" fill="#f6edec" style="stroke:none"/>
<path d="M310.2,530.9L323.3,517.9L340.7,530.9L332.0,539.9M316.8,539.9L310.2,530.9" fill="none"/>
<polygon points="292.8,511.3 310.2,530.9 305.9,539.9 298.2,517.9" fill="#ffffff"/>
<polygon points="323.3,406.8 333.1,391.5 340.7,378.4 349.4,385.0 338.5,408.9 327.6,406.8" fill="#f6edec"/>
<polygon points="338.5,408.9 349.4,385.0 360.3,387.1 349.4,415.5" fill="#ead6d3"/>
<polygon points="349.4,415.5 360.3,387.1 373.4,391.5 366.9,422.0 362.5,419.8" fill="#ead6d3"/>
<polygon points="366.9,422.0 373.4,391.5 387.6,395.9 379.9,428.5 377.8,430.7" fill="#f6edec"/>
<polygon points="349.4,415.5 362.5,419.8 366.9,422.0 377.8,430.7 366.9,426.4 349.4,418.7" fill="#ead6d3"/>
<polygon points="386.5,395.9 410.0,402.4 410.0,413.3 384.3,408.9" fill="#c2bee2" style="stroke:none"/>
<path d="M386.5,395.9L410.0,402.4M410.0,413.3L384.3,408.9L386.5,395.9" fill="none"/>
<polygon points="384.3,408.9 410.0,413.3 410.0,428.5 382.1,426.4" fill="#e7e6f3" style="stroke:none"/>
<path d="M384.3,408.9L410.0,413.3M410.0,428.5L382.1,426.4L384.3,408.9" fill="none"/>
<polygon points="382.1,427.5 410.0,430.7 410.0,439.4 390.8,439.4 384.3,439.4" fill="#f8f7fb" style="stroke:none"/>
<path d="M382.1,427.5L410.0,430.7M410.0,439.4L390.8,439.4L384.3,439.4L382.1,427.5" fill="none"/>
<polygon points="390.8,439.4 410.0,439.4 410.0,452.5 389.7,446.0" fill="#c2bee2" style="stroke:none"/>
<path d="M390.8,439.4L410.0,439.4M410.0,452.5L389.7,446.0L390.8,439.4" fill="none"/>
<polygon points="374.5,450.3 379.9,448.1 384.3,439.4 390.8,446.0 410.0,452.5 410.0,539.9 349.4,539.9 340.7,530.9 332.0,520.0 340.7,509.2 352.7,486.3" fill="#ffffff" style="stroke:none"/>
<path d="M374.5,450.3L379.9,448.1L384.3,439.4L390.8,446.0L410.0,452.5M349.4,539.9L340.7,530.9L332.0,520.0L340.7,509.2L352.7,486.3L374.5,450.3" fill="none"/>
<polygon points="210.0,540.0 410.0,540.0 410.0,779.9 210.0,779.9" fill="#f8f7fb" style="stroke:none"/>
<polygon points="236.1,556.3 253.6,540.0 314.6,540.0 323.3,555.3 329.8,598.8 318.9,603.2 293.9,618.4 284.1,627.1 266.6,605.4 249.2,585.8" fill="#ffffff" style="stroke:none"/>
<path d="M236.1,556.3L253.6,540.0M314.6,540.0L323.3,555.3L329.8,598.8L318.9,603.2L293.9,618.4L284.1,627.1L266.6,605.4L249.2,585.8L236.1,556.3" fill="none"/>
<polygon points="210.0,546.5 223.1,544.4 236.1,556.3 218.7,579.2 210.0,572.7" fill="#c2bee2" style="stroke:none"/>
<path d="M210.0,546.5L223.1,544.4L236.1,556.3L218.7,579.2L210.0,572.7" fill="none"/>
<polygon points="284.1,627.1 293.9,619.5 320.0,640.2 312.4,648.9" fill="#ead6d3"/>
<polygon points="286.3,665.3 297.1,652.2 312.4,668.5 321.1,681.6 312.4,690.3" fill="#ead6d3"/>
<polygon points="275.4,675.1 286.3,665.3 312.4,690.3 303.7,701.2" fill="#e7e6f3"/>
<polygon points="303.7,701.2 312.4,690.3 321.1,681.6 332.0,692.5 340.7,712.1 338.5,720.8 323.3,736.1 316.8,731.7 297.1,709.9" fill="#f8f7fb"/>
<polygon points="284.1,729.5 297.1,712.1 316.8,731.7 305.9,744.8" fill="#f6edec"/>
<polygon points="304.8,744.8 312.4,738.3 351.6,762.2 340.7,776.4 312.4,757.9" fill="#ead6d3"/>
<polygon points="286.3,747.0 292.8,739.3 304.8,744.8 312.4,757.9 305.9,766.6" fill="#f8f7fb"/>
<polygon points="249.2,749.2 256.8,731.7 268.8,740.4 256.8,762.2" fill="#e7e6f3"/>
<polygon points="266.6,749.2 273.2,742.6 303.7,766.6 297.1,773.1" fill="#c2bee2"/>
<polygon points="293.9,618.4 318.9,603.2 338.5,601.0 340.7,607.5 328.7,610.8 303.7,627.1" fill="#c2bee2"/>
<polygon points="305.9,628.2 328.7,614.1 353.8,613.0 354.9,617.3 338.5,622.8 318.9,636.9" fill="#c2bee2"/>
<polygon points="314.6,540.0 327.6,540.0 332.0,546.5 340.7,557.4 347.3,578.1 329.8,586.8 323.3,555.3" fill="#e7e6f3" style="stroke:none"/>
<path d="M327.6,540.0L332.0,546.5L340.7,557.4L347.3,578.1L329.8,586.8L323.3,555.3L314.6,540.0" fill="none"/>
<polygon points="340.7,557.4 360.3,553.1 364.7,570.5 349.4,575.9 347.3,578.1" fill="#f6edec"/>
<polygon points="349.4,575.9 364.7,570.5 371.2,607.5 356.0,615.2 352.7,587.9" fill="#f6edec"/>
<polygon points="329.8,586.8 347.3,578.1 352.7,587.9 354.9,613.0 340.7,607.5 338.5,601.0 330.9,601.0" fill="#f8f7fb"/>
<polygon points="332.0,540.0 353.8,540.0 360.3,553.1 340.7,557.4" fill="#ffffff" style="stroke:none"/>
<path d="M353.8,540.0L360.3,553.1L340.7,557.4L332.0,540.0" fill="none"/>
<polygon points="328.7,630.4 354.9,617.3 356.0,615.2 371.2,607.5 377.8,631.5 384.3,648.9 390.8,692.5 371.2,696.9 366.9,690.3 349.4,696.9 345.1,703.4 340.7,712.1 332.0,692.5 321.1,681.6 312.4,668.5 320.0,640.2" fill="#f8f7fb"/>
<polygon points="349.4,653.3 360.3,648.9 360.3,640.2 372.3,638.0 376.7,666.4 351.6,670.7" fill="#f6edec"/>
<polygon points="321.1,681.6 329.8,672.9 345.1,679.4 349.4,696.9 345.1,703.4 328.7,696.9" fill="#f6edec"/>
<polyline points="328.7,630.4 336.4,672.9" fill="none"/>
<polyline points="339.6,626.1 349.4,696.9" fill="none"/>
<polyline points="347.3,622.8 351.6,670.7" fill="none"/>
<polygon points="345.1,703.4 349.4,696.9 366.9,690.3 371.2,696.9 372.3,712.1 349.4,720.8" fill="#e7e6f3"/>
<polygon points="340.7,712.1 349.4,720.8 372.3,712.1 373.4,727.4 345.1,731.7 338.5,720.8" fill="#ffffff"/>
<polygon points="345.1,731.7 373.4,727.4 375.6,742.6 349.4,744.8" fill="#f6edec"/>
<polygon points="351.6,745.9 376.7,742.6 382.1,770.9 356.0,773.1" fill="#d6d3eb"/>
<polygon points="376.7,742.6 384.3,753.5 397.4,751.3 410.0,757.9 410.0,779.9 384.3,779.9 382.1,770.9" fill="#e7e6f3" style="stroke:none"/>
<path d="M376.7,742.6L384.3,753.5L397.4,751.3L410.0,757.9M384.3,779.9L382.1,770.9L376.7,742.6" fill="none"/>
<polygon points="323.3,736.1 338.5,720.8 345.1,731.7 349.4,744.8 351.6,762.2 312.4,738.3" fill="#f8f7fb"/>
<polygon points="74.9,640.0 240.0,640.0 240.0,879.9 170.7,874.2 151.1,870.9 142.4,865.5 122.8,862.2 103.2,857.9 90.1,849.2 80.3,839.3 73.8,830.6 61.8,807.8 54.2,788.1 49.8,768.5 47.6,751.1 48.7,731.5 49.8,714.1 52.0,701.0 57.4,683.6 64.0,670.5 70.5,653.1" fill="#e7e6f3" style="stroke:none"/>
<polygon points="74.9,640.0 101.0,640.0 97.7,659.6 89.0,681.4 64.0,670.5 70.5,653.1" fill="#d6d3eb" style="stroke:none"/>
<path d="M101.0,640.0L97.7,659.6L89.0,681.4L64.0,670.5L70.5,653.1L74.9,640.0" fill="none"/>
<polygon points="64.0,670.5 89.0,681.4 86.8,689.0 60.7,681.4" fill="#c2bee2"/>
<polygon points="57.4,683.6 60.7,681.4 86.8,689.0 97.7,693.4 91.2,718.4 66.1,711.9 65.1,715.2 49.8,713.0 52.0,701.0" fill="#f8f7fb"/>
<polygon points="97.7,660.7 105.4,666.1 99.9,692.3 89.0,689.0 89.0,681.4" fill="#d6d3eb"/>
<polygon points="49.8,714.1 65.1,715.2 66.1,711.9 91.2,718.4 86.8,731.5 72.7,728.2 71.6,735.9 48.7,731.5" fill="#d6d3eb"/>
<polygon points="48.7,731.5 71.6,735.9 72.7,728.2 86.8,731.5 83.6,744.6 55.3,748.9 47.6,751.1" fill="#d6d3eb"/>
<polygon points="86.8,731.5 92.3,725.0 115.2,732.6 109.7,751.1 83.6,744.6" fill="#d6d3eb"/>
<polygon points="83.6,744.6 109.7,751.1 105.4,762.0 80.3,758.7" fill="#d6d3eb"/>
<polygon points="47.6,751.1 55.3,748.9 80.3,758.7 75.9,772.9 49.8,764.2" fill="#c2bee2"/>
<polygon points="49.8,764.2 75.9,772.9 72.7,781.6 54.2,788.1 49.8,768.5" fill="#d6d3eb"/>
<polygon points="75.9,772.9 80.3,759.8 105.4,763.1 109.7,770.7 99.9,788.1 72.7,781.6" fill="#e7e6f3"/>
<polygon points="72.7,781.6 99.9,788.1 92.3,792.5 64.0,790.3 54.2,788.1" fill="#c2bee2"/>
<polygon points="54.2,788.1 64.0,790.3 92.3,792.5 86.8,801.2 61.8,807.8" fill="#e7e6f3"/>
<polygon points="61.8,807.8 86.8,801.2 73.8,830.6" fill="#e7e6f3"/>
<polygon points="73.8,830.6 92.3,792.5 99.9,788.1 116.3,786.0 117.3,790.3 109.7,805.6 98.8,818.6" fill="#c2bee2"/>
<polygon points="105.4,762.0 109.7,751.1 115.2,732.6 119.5,729.3 125.0,733.7 134.8,770.7 122.8,788.1 116.3,786.0 109.7,770.7" fill="#e7e6f3"/>
<polygon points="114.1,809.9 134.8,770.7 141.3,777.3 127.1,827.4 116.3,825.2 117.3,814.3" fill="#c2bee2"/>
<polygon points="73.8,830.6 98.8,818.6 109.7,805.6 114.1,809.9 117.3,814.3 116.3,825.2 127.1,827.4 141.3,840.4 136.9,847.0 143.5,852.4 142.4,865.5 122.8,862.2 103.2,857.9 90.1,849.2 80.3,839.3" fill="#f8f7fb"/>
<polygon points="134.8,770.7 140.2,740.2 142.4,731.5 151.1,735.9 165.3,753.3 146.8,777.3 141.3,777.3" fill="#d6d3eb"/>
<polygon points="174.9,560.0 260.0,560.0 260.0,751.9 100.0,751.9 100.0,629.7 119.2,645.4 162.7,610.5 152.3,601.8 180.2,567.0" fill="#f8f7fb" style="stroke:none"/>
<polygon points="198.5,551.8 193.6,556.9 183.8,556.9 172.3,561.7 183.8,574.8 152.8,604.1 138.0,597.6 131.5,607.4 138.0,617.2 120.0,649.9 92.3,627.1 98.8,620.5 107.0,618.9 120.0,605.8 128.2,597.6 124.9,586.1 138.0,574.8 134.9,561.7 146.2,551.8" fill="#d9b4af" style="stroke:none"/>
<path d="M198.5,551.8L193.6,556.9M183.8,556.9L172.3,561.7L183.8,574.8L152.8,604.1L138.0,597.6L131.5,607.4L138.0,617.2L120.0,649.9L92.3,627.1L98.8,620.5L107.0,618.9L120.0,605.8L128.2,597.6L124.9,586.1L138.0,574.8L134.9,561.7L146.2,551.8" fill="none"/>
<polyline points="103.7,594.3 121.6,605.8" fill="none"/>
<polyline points="121.6,578.0 138.0,584.6" fill="none"/>
<polyline points="128.2,564.9 142.9,578.0" fill="none"/>
<polyline points="138.0,556.9 152.8,569.9" fill="none"/>
<polygon points="152.3,601.8 169.7,580.9 180.2,589.6 162.7,610.5" fill="#cda29c"/>
<polygon points="130.5,610.5 141.0,597.5 153.2,603.6 162.7,611.4 126.1,655.9 117.4,650.6 138.3,619.3" fill="#ead6d3"/>
<polygon points="201.1,565.2 208.1,560.0 232.5,560.0 235.9,561.7 218.5,580.0" fill="#c2bee2" style="stroke:none"/>
<path d="M201.1,565.2L208.1,560.0M232.5,560.0L235.9,561.7L218.5,580.0L201.1,565.2" fill="none"/>
<polygon points="190.6,580.9 202.8,568.7 218.5,581.8 206.3,594.0" fill="#e7e6f3"/>
<polygon points="218.5,581.8 229.0,570.5 248.1,584.4 237.7,597.5" fill="#e7e6f3"/>
<polygon points="180.2,596.6 190.6,580.9 206.3,594.0 195.0,607.9" fill="#ffffff"/>
<polygon points="208.9,594.9 218.5,581.8 237.7,597.5 227.2,610.5" fill="#ffffff"/>
<polygon points="168.8,609.7 180.2,596.6 195.0,607.9 185.4,621.9" fill="#ffffff"/>
<polygon points="199.3,607.9 208.9,594.9 227.2,610.5 218.5,622.7" fill="#e7e6f3"/>
<polygon points="158.4,621.9 168.8,609.7 185.4,621.9 174.9,634.9" fill="#ffffff"/>
<polygon points="188.0,621.9 199.3,607.9 218.5,622.7 208.1,634.9" fill="#ead6d3"/>
<polygon points="220.3,622.7 229.0,611.4 248.1,626.2 237.7,638.4" fill="#c4918a"/>
<polygon points="147.9,634.9 158.4,621.9 174.9,634.9 167.1,647.1" fill="#ffffff"/>
<polygon points="176.7,636.7 188.0,621.9 208.1,634.9 197.6,648.9" fill="#d9b4af"/>
<polygon points="208.9,636.7 220.3,622.7 237.7,638.4 228.1,652.4" fill="#b06f67"/>
<polygon points="141.0,638.4 147.9,634.9 152.3,636.7 143.6,647.1 140.1,645.4" fill="#f6edec"/>
<polygon points="143.6,654.1 152.3,641.9 174.1,657.6 165.4,671.5" fill="#ead6d3"/>
<polygon points="167.1,648.9 176.7,636.7 195.0,650.6 186.3,663.7" fill="#b06f67"/>
<polygon points="197.6,649.8 208.9,636.7 228.1,652.4 216.8,666.3" fill="#c4918a"/>
<polygon points="187.1,663.7 197.6,650.6 215.9,666.3 206.3,680.3" fill="#c4918a"/>
<polygon points="207.2,680.3 228.1,653.2 239.4,664.6 213.3,687.2" fill="#b06f67"/>
<polygon points="165.4,671.5 174.1,657.6 186.3,664.6 206.3,680.3 213.3,687.2 208.1,692.5 190.6,681.1 185.4,686.4" fill="#b06f67"/>
<polygon points="164.5,673.3 185.4,686.4 190.6,681.1 208.1,692.5 195.0,704.7 168.0,689.0 166.2,685.5" fill="#d9b4af"/>
<polygon points="208.1,693.3 213.3,687.2 222.0,682.0 241.2,699.4 230.7,711.6" fill="#ead6d3"/>
<polygon points="195.0,704.7 208.1,693.3 229.8,711.6 219.4,724.7" fill="#ead6d3"/>
<polygon points="168.0,689.8 195.0,704.7 183.7,714.2 168.8,701.2" fill="#ead6d3"/>
<polygon points="185.4,715.1 195.0,705.5 218.5,724.7 209.8,734.3" fill="#f6edec"/>
<polygon points="179.3,719.5 185.4,715.1 209.8,734.3 204.6,741.3" fill="#f6edec"/>
<polygon points="209.8,736.0 219.4,724.7 229.8,711.6 251.6,734.3 241.2,744.7" fill="#f8f7fb"/>
<polygon points="204.6,741.3 209.8,734.3 229.0,751.9 211.5,751.9" fill="#e7e6f3" style="stroke:none"/>
<path d="M204.6,741.3L209.8,734.3L229.0,751.9M211.5,751.9L204.6,741.3" fill="none"/>
<polygon points="157.5,734.3 168.8,701.2 183.7,714.2 179.3,719.5 181.9,722.1" fill="#f8f7fb"/>
<polygon points="112.2,640.2 119.2,645.4 126.1,655.9 141.0,638.4 140.1,645.4 141.8,652.4 134.9,664.6 122.7,662.8 121.8,666.3 110.5,661.1" fill="#e7e6f3"/>
<polygon points="134.9,664.6 141.8,652.4 143.6,654.1 165.4,671.5 166.2,685.5 157.5,692.5 155.8,687.2 133.1,676.8" fill="#f8f7fb"/>
<polygon points="100.0,629.7 112.2,640.2 110.5,661.1 100.0,664.6" fill="#d6d3eb" style="stroke:none"/>
<path d="M100.0,629.7L112.2,640.2L110.5,661.1L100.0,664.6" fill="none"/>
<polygon points="100.0,664.6 110.5,661.1 121.8,666.3 122.7,662.8 134.9,664.6 133.1,676.8 129.6,692.5 105.2,682.0 100.0,682.0" fill="#d6d3eb" style="stroke:none"/>
<path d="M100.0,664.6L110.5,661.1L121.8,666.3L122.7,662.8L134.9,664.6L133.1,676.8L129.6,692.5L105.2,682.0L100.0,682.0" fill="none"/>
<polygon points="133.1,676.8 155.8,687.2 152.3,699.4 149.7,706.4 128.8,697.7 129.6,692.5" fill="#d6d3eb"/>
<polygon points="100.0,682.0 105.2,682.0 129.6,692.5 128.8,697.7 124.4,709.9 100.0,699.4" fill="#c2bee2" style="stroke:none"/>
<path d="M100.0,682.0L105.2,682.0L129.6,692.5L128.8,697.7L124.4,709.9L100.0,699.4" fill="none"/>
<polygon points="128.8,697.7 149.7,706.4 152.3,699.4 157.5,692.5 166.2,685.5 168.0,689.8 168.8,701.2 161.0,723.8 152.3,727.3 150.5,722.1 124.4,709.9" fill="#c2bee2"/>
<polygon points="100.0,699.4 124.4,709.9 119.2,732.5 100.0,725.6" fill="#d6d3eb" style="stroke:none"/>
<path d="M100.0,699.4L124.4,709.9L119.2,732.5L100.0,725.6" fill="none"/>
<polygon points="124.4,709.9 150.5,722.1 152.3,727.3 148.8,734.3 141.8,732.5 138.3,744.7 117.4,739.5 119.2,732.5" fill="#d6d3eb"/>
<polygon points="100.0,725.6 119.2,732.5 117.4,739.5 110.5,751.9 100.0,751.9" fill="#d6d3eb" style="stroke:none"/>
<path d="M100.0,725.6L119.2,732.5L117.4,739.5L110.5,751.9" fill="none"/>
<polygon points="138.3,744.7 141.8,732.5 148.8,734.3 152.3,727.3 161.0,723.8 157.5,734.3 152.3,751.9 126.1,751.9 127.9,744.7" fill="#c2bee2" style="stroke:none"/>
<path d="M138.3,744.7L141.8,732.5L148.8,734.3L152.3,727.3L161.0,723.8L157.5,734.3L152.3,751.9M126.1,751.9L127.9,744.7L138.3,744.7" fill="none"/>
<polygon points="152.3,751.9 157.5,734.3 179.3,719.5 181.9,722.1 185.4,727.3 173.2,737.8 176.7,741.3 166.2,751.9" fill="#c2bee2" style="stroke:none"/>
<path d="M152.3,751.9L157.5,734.3L179.3,719.5L181.9,722.1L185.4,727.3L173.2,737.8L176.7,741.3L166.2,751.9" fill="none"/>
<polygon points="166.2,751.9 176.7,741.3 185.4,727.3 197.6,736.0 204.6,741.3 211.5,751.9" fill="#9f9acf" style="stroke:none"/>
<path d="M166.2,751.9L176.7,741.3L185.4,727.3L197.6,736.0L204.6,741.3L211.5,751.9" fill="none"/>
<polygon points="400.0,660.0 552.5,660.0 552.5,746.1 486.1,799.4 517.6,843.0 539.4,875.7 552.5,896.4 550.3,899.9 400.0,899.9" fill="#f8f7fb" style="stroke:none"/>
<polygon points="456.6,660.0 490.4,660.0 491.5,666.5 465.4,669.8 463.2,670.9" fill="#e7e6f3" style="stroke:none"/>
<path d="M490.4,660.0L491.5,666.5L465.4,669.8L463.2,670.9L456.6,660.0" fill="none"/>
<polygon points="466.4,670.9 491.5,667.6 493.7,693.8 486.1,695.9" fill="#f6edec"/>
<polygon points="491.5,666.5 508.9,665.4 511.1,692.7 493.7,693.8" fill="#f6edec"/>
<polygon points="508.9,665.4 527.5,664.4 528.5,677.4 529.6,691.6 511.1,692.7" fill="#ead6d3"/>
<polygon points="527.5,660.0 548.1,660.0 549.2,675.3 528.5,677.4" fill="#ead6d3" style="stroke:none"/>
<path d="M548.1,660.0L549.2,675.3L528.5,677.4L527.5,660.0" fill="none"/>
<polygon points="528.5,677.4 554.7,676.3 560.1,690.5 560.1,702.5 530.7,704.7 529.6,691.6" fill="#ead6d3"/>
<polygon points="487.1,695.9 529.6,692.7 530.7,704.7 495.9,707.9" fill="#ead6d3"/>
<polygon points="465.4,686.1 470.8,680.7 495.9,707.9 467.5,711.2 468.6,704.7 479.5,699.2 466.4,689.4" fill="#ead6d3"/>
<polygon points="548.1,660.0 578.6,660.0 574.3,673.1 550.3,675.3" fill="#ead6d3" style="stroke:none"/>
<path d="M578.6,660.0L574.3,673.1L550.3,675.3L548.1,660.0" fill="none"/>
<polygon points="578.6,660.0 600.0,660.0 600.0,670.9 593.9,673.1 574.3,673.1" fill="#f6edec" style="stroke:none"/>
<path d="M600.0,670.9L593.9,673.1L574.3,673.1L578.6,660.0" fill="none"/>
<polygon points="554.7,676.3 593.9,673.1 595.0,686.1 560.1,690.5" fill="#ead6d3"/>
<polygon points="560.1,690.5 595.0,686.1 600.0,685.1 600.0,701.4 560.1,702.5" fill="#f6edec" style="stroke:none"/>
<path d="M560.1,690.5L595.0,686.1L600.0,685.1M600.0,701.4L560.1,702.5L560.1,690.5" fill="none"/>
<polygon points="446.8,716.6 464.3,714.5 468.6,740.6 451.2,741.7" fill="#f8f7fb"/>
<polygon points="464.3,714.5 481.7,712.3 486.1,738.4 468.6,740.6" fill="#e7e6f3"/>
<polygon points="481.7,712.3 499.1,710.1 504.6,736.3 486.1,738.4" fill="#f8f7fb"/>
<polygon points="499.1,710.1 517.6,707.9 519.8,731.9 515.5,734.1 504.6,736.3" fill="#f8f7fb"/>
<polygon points="517.6,707.9 535.1,706.8 537.3,729.7 519.8,731.9" fill="#f6edec"/>
<polygon points="535.1,706.8 552.5,705.8 553.6,731.9 537.3,729.7" fill="#ead6d3"/>
<polygon points="432.7,747.1 455.6,743.9 459.9,771.1 446.8,774.4 444.7,762.4 433.8,764.6" fill="#f8f7fb"/>
<polygon points="455.6,743.9 473.0,741.7 476.3,768.9 459.9,771.1" fill="#f8f7fb"/>
<polygon points="473.0,741.7 490.4,739.5 494.8,766.8 476.3,768.9" fill="#f6edec"/>
<polygon points="490.4,739.5 507.8,737.3 511.1,764.6 494.8,766.8" fill="#ead6d3"/>
<polygon points="507.8,737.3 515.5,735.2 536.2,756.9 530.7,763.5 511.1,764.6" fill="#f8f7fb"/>
<polygon points="515.5,734.1 544.9,731.9 548.1,745.0 536.2,756.9" fill="#f6edec"/>
<polygon points="486.1,770.0 530.7,764.6 513.3,779.8 500.2,783.1 491.5,792.9" fill="#ffffff"/>
<polygon points="446.8,774.4 468.6,772.2 471.9,801.6 454.5,804.9 452.3,790.7 446.8,788.5" fill="#f8f7fb"/>
<polygon points="468.6,772.2 486.1,770.0 491.5,792.9 480.6,801.6 471.9,801.6" fill="#f8f7fb"/>
<polygon points="400.0,739.5 416.3,737.3 421.8,748.2 419.6,764.6 404.4,766.8" fill="#e7e6f3"/>
<polygon points="404.4,766.8 428.3,763.5 429.4,791.8 406.5,795.1" fill="#d6d3eb"/>
<polygon points="428.3,763.5 433.8,764.6 444.7,762.4 446.8,788.5 429.4,791.8" fill="#c2bee2"/>
<polygon points="400.0,766.8 404.4,766.8 406.5,795.1 400.0,796.2" fill="#f8f7fb" style="stroke:none"/>
<path d="M400.0,766.8L404.4,766.8L406.5,795.1L400.0,796.2" fill="none"/>
<polygon points="406.5,796.2 426.1,792.9 430.5,822.3 412.0,825.6" fill="#ffffff"/>
<polygon points="426.1,792.9 443.6,790.7 446.8,819.0 430.5,822.3" fill="#f8f7fb"/>
<polygon points="443.6,790.7 452.3,790.7 454.5,804.9 468.6,802.7 469.7,818.0 446.8,821.2" fill="#d6d3eb"/>
<polygon points="474.1,801.6 492.6,795.1 498.0,827.8 477.3,829.9" fill="#e7e6f3"/>
<polygon points="468.6,802.7 474.1,801.6 477.3,829.9 490.4,828.8 491.5,841.9 471.9,845.2 469.7,818.0" fill="#f6edec"/>
<polygon points="492.6,795.1 500.2,783.1 518.7,808.1 498.0,824.5" fill="#d6d3eb"/>
<polygon points="500.2,783.1 513.3,779.8 517.6,777.6 531.8,795.1 519.8,806.0" fill="#f6edec"/>
<polygon points="517.6,777.6 530.7,764.6 550.3,782.0 535.1,794.0 531.8,795.1" fill="#e7e6f3"/>
<polygon points="498.0,824.5 518.7,808.1 528.5,816.9 506.8,834.3" fill="#d6d3eb"/>
<polygon points="525.3,801.6 535.1,794.0 552.5,812.5 541.6,821.2" fill="#c2bee2"/>
<polygon points="506.8,834.3 519.8,823.4 526.4,832.1 517.6,843.0" fill="#e7e6f3"/>
<polygon points="519.8,823.4 528.5,816.9 541.6,821.2 548.1,834.3 544.9,838.6 532.9,827.8 526.4,832.1" fill="#c2bee2"/>
<polygon points="517.6,843.0 532.9,827.8 544.9,838.6 562.3,856.1 587.4,851.7 600.0,840.8 600.0,899.9 569.9,899.9 543.8,872.4 539.4,875.7" fill="#ffffff" style="stroke:none"/>
<path d="M517.6,843.0L532.9,827.8L544.9,838.6L562.3,856.1L587.4,851.7L600.0,840.8M569.9,899.9L543.8,872.4L539.4,875.7L517.6,843.0" fill="none"/>
<polygon points="504.6,834.3 517.6,844.1 539.4,875.7 536.2,877.9" fill="#e7e6f3"/>
<polygon points="400.0,796.2 406.5,796.2 412.0,825.6 413.1,834.3 400.0,836.5" fill="#f8f7fb" style="stroke:none"/>
<path d="M400.0,796.2L406.5,796.2L412.0,825.6L413.1,834.3L400.0,836.5" fill="none"/>
<polygon points="400.0,812.5 406.5,812.5 407.6,825.6 404.4,827.8 405.4,845.2 400.0,847.4" fill="#f6edec" style="stroke:none"/>
<path d="M400.0,812.5L406.5,812.5L407.6,825.6L404.4,827.8L405.4,845.2L400.0,847.4" fill="none"/>
<polygon points="412.0,825.6 430.5,822.3 433.8,850.6 416.3,853.9" fill="#f8f7fb"/>
<polygon points="430.5,822.3 446.8,821.2 451.2,848.5 433.8,850.6" fill="#d6d3eb"/>
<polygon points="446.8,821.2 469.7,818.0 471.9,845.2 451.2,848.5" fill="#e7e6f3"/>
<polygon points="489.3,829.9 498.0,827.8 506.8,835.4 515.5,851.7 498.0,856.1 491.5,841.9" fill="#c2bee2"/>
<polygon points="400.0,847.4 405.4,845.2 408.7,856.1 415.3,855.0 417.4,880.0 400.0,882.2" fill="#e7e6f3" style="stroke:none"/>
<path d="M400.0,847.4L405.4,845.2L408.7,856.1L415.3,855.0L417.4,880.0L400.0,882.2" fill="none"/>
<polygon points="416.3,853.9 433.8,850.6 437.0,880.0 417.4,882.2" fill="#e7e6f3"/>
<polygon points="433.8,850.6 451.2,848.5 454.5,877.9 437.0,880.0" fill="#e7e6f3"/>
<polygon points="451.2,848.5 471.9,845.2 475.2,874.6 454.5,877.9" fill="#f8f7fb"/>
<polygon points="471.9,845.2 487.1,843.0 489.3,856.1 490.4,872.4 475.2,874.6" fill="#f8f7fb"/>
<polygon points="490.4,857.2 498.0,856.1 502.4,884.4 493.7,885.5" fill="#f8f7fb"/>
<polygon points="498.0,856.1 515.5,855.0 518.7,882.2 502.4,884.4" fill="#9f9acf"/>
<polygon points="515.5,851.7 536.2,877.9 518.7,882.2" fill="#f8f7fb"/>
<polygon points="502.4,885.5 535.1,880.0 552.5,896.4 550.3,899.9 504.6,899.9" fill="#d6d3eb" style="stroke:none"/>
<path d="M502.4,885.5L535.1,880.0L552.5,896.4L550.3,899.9M504.6,899.9L502.4,885.5" fill="none"/>
<polygon points="417.4,882.2 434.9,880.0 435.9,899.9 419.6,899.9" fill="#c2bee2" style="stroke:none"/>
<path d="M417.4,882.2L434.9,880.0L435.9,899.9M419.6,899.9L417.4,882.2" fill="none"/>
<polygon points="434.9,880.0 453.4,877.9 454.5,899.9 435.9,899.9" fill="#c2bee2" style="stroke:none"/>
<path d="M434.9,880.0L453.4,877.9L454.5,899.9M435.9,899.9L434.9,880.0" fill="none"/>
<polygon points="453.4,877.9 469.7,875.7 471.9,899.9 454.5,899.9" fill="#c2bee2" style="stroke:none"/>
<path d="M453.4,877.9L469.7,875.7L471.9,899.9M454.5,899.9L453.4,877.9" fill="none"/>
<polygon points="469.7,875.7 489.3,873.1 491.5,899.9 471.9,899.9" fill="#f8f7fb" style="stroke:none"/>
<path d="M469.7,875.7L489.3,873.1L491.5,899.9M471.9,899.9L469.7,875.7" fill="none"/>
<polygon points="489.3,873.1 493.7,885.5 502.4,885.5 504.6,899.9 491.5,899.9" fill="#e7e6f3" style="stroke:none"/>
<path d="M489.3,873.1L493.7,885.5L502.4,885.5L504.6,899.9M491.5,899.9L489.3,873.1" fill="none"/>
<polygon points="400.0,882.2 417.4,882.2 419.6,899.9 400.0,899.9" fill="#e7e6f3" style="stroke:none"/>
<path d="M400.0,882.2L417.4,882.2L419.6,899.9" fill="none"/>
<polygon points="400.0,300.0 419.6,300.0 420.9,319.6 400.0,323.5" fill="#d6d3eb" style="stroke:none"/>
<path d="M419.6,300.0L420.9,319.6L400.0,323.5" fill="none"/>
<polygon points="400.0,323.5 420.9,319.6 424.8,349.7 410.5,353.6 400.0,347.1" fill="#f8f7fb" style="stroke:none"/>
<path d="M400.0,323.5L420.9,319.6L424.8,349.7L410.5,353.6L400.0,347.1" fill="none"/>
<polygon points="400.0,353.6 410.5,353.6 417.0,388.9 400.0,396.7" fill="#c2bee2" style="stroke:none"/>
<path d="M400.0,353.6L410.5,353.6L417.0,388.9L400.0,396.7" fill="none"/>
<polygon points="419.6,300.0 456.2,300.0 457.5,313.1 441.8,315.7 422.2,318.3" fill="#7b75bc" style="stroke:none"/>
<path d="M456.2,300.0L457.5,313.1L441.8,315.7L422.2,318.3L419.6,300.0" fill="none"/>
<polygon points="422.2,318.3 441.8,315.7 444.4,339.2 424.8,341.8" fill="#3f3b9c"/>
<polygon points="441.8,315.7 458.8,313.1 462.7,341.8 447.1,345.8 444.4,339.2" fill="#5a55aa"/>
<polygon points="458.8,313.1 474.5,311.8 477.1,341.8 462.7,343.1" fill="#5a55aa"/>
<polygon points="422.2,343.1 444.4,339.2 448.4,361.4 426.1,365.4" fill="#7b75bc"/>
<polygon points="410.5,353.6 424.8,351.0 428.8,386.3 417.0,388.9" fill="#7b75bc"/>
<polygon points="426.1,365.4 448.4,361.4 451.0,381.0 428.8,386.3" fill="#3f3b9c"/>
<polygon points="447.1,345.8 462.7,343.1 466.7,371.9 451.0,374.5" fill="#5a55aa"/>
<polygon points="462.7,343.1 477.1,341.8 479.7,370.6 466.7,371.9" fill="#7b75bc"/>
<polygon points="451.0,374.5 466.7,371.9 470.6,402.0 453.6,403.3" fill="#7b75bc"/>
<polygon points="466.7,371.9 482.4,370.6 486.3,400.7 470.6,402.0" fill="#5a55aa"/>
<polygon points="417.0,388.9 451.0,381.0 453.6,403.3 445.8,405.9 415.7,400.7" fill="#7b75bc"/>
<polygon points="456.2,300.0 470.6,300.0 471.9,311.8 457.5,313.1" fill="#ffffff" style="stroke:none"/>
<path d="M470.6,300.0L471.9,311.8L457.5,313.1L456.2,300.0" fill="none"/>
<polygon points="470.6,300.0 483.7,300.0 485.0,310.5 474.5,311.8" fill="#9f9acf" style="stroke:none"/>
<path d="M483.7,300.0L485.0,310.5L474.5,311.8L470.6,300.0" fill="none"/>
<polygon points="483.7,300.0 498.0,300.0 498.8,307.8 485.0,309.9" fill="#ffffff" style="stroke:none"/>
<path d="M498.0,300.0L498.8,307.8L485.0,309.9L483.7,300.0" fill="none"/>
<polygon points="474.5,311.8 498.8,307.8 498.8,315.7 474.5,319.6" fill="#c2bee2"/>
<polygon points="474.5,319.6 498.8,315.7 500.7,336.6 477.1,341.8" fill="#9f9acf"/>
<polygon points="477.1,341.8 500.7,336.6 503.3,352.3 479.7,356.2" fill="#9f9acf"/>
<polygon points="479.7,356.2 503.3,352.3 505.9,370.6 482.4,374.5" fill="#9f9acf"/>
<polygon points="482.4,374.5 507.2,370.6 509.8,387.6 485.0,391.5" fill="#7b75bc"/>
<polygon points="485.0,391.5 509.8,387.6 512.4,404.6 486.3,403.3" fill="#7b75bc"/>
<polygon points="498.8,307.8 522.9,305.2 525.5,318.3 500.1,322.2" fill="#d6d3eb"/>
<polygon points="500.1,322.2 525.5,318.3 528.1,334.0 502.0,337.9" fill="#d6d3eb"/>
<polygon points="502.0,337.9 528.1,334.0 530.7,349.7 504.1,353.6" fill="#9f9acf"/>
<polygon points="504.1,353.6 530.7,349.7 533.3,368.0 506.7,371.9" fill="#d6d3eb"/>
<polygon points="506.7,371.9 534.6,368.0 537.3,385.0 509.8,388.9" fill="#9f9acf"/>
<polygon points="509.8,388.9 537.3,385.0 541.2,405.9 512.4,404.6" fill="#9f9acf"/>
<polygon points="522.9,300.0 542.5,300.0 556.9,313.1 525.5,318.3" fill="#d6d3eb" style="stroke:none"/>
<path d="M542.5,300.0L556.9,313.1L525.5,318.3L522.9,300.0" fill="none"/>
<polygon points="525.5,318.3 556.9,313.1 567.3,320.9 556.9,331.4 528.1,334.0" fill="#d6d3eb"/>
<polygon points="528.1,334.0 556.9,330.1 559.5,347.1 530.7,351.0" fill="#9f9acf"/>
<polygon points="530.7,351.0 559.5,347.1 562.1,365.4 533.3,368.5" fill="#d6d3eb"/>
<polygon points="534.6,368.5 562.1,365.4 564.7,382.4 537.3,385.8" fill="#7b75bc"/>
<polygon points="537.3,385.8 564.7,382.4 567.3,407.2 541.2,405.9" fill="#9f9acf"/>
<polygon points="535.9,300.0 556.9,300.0 575.2,315.7 572.5,326.1 567.3,320.9 556.9,313.1 542.5,300.0" fill="#9f9acf" style="stroke:none"/>
<path d="M556.9,300.0L575.2,315.7L572.5,326.1L567.3,320.9L556.9,313.1L542.5,300.0" fill="none"/>
<polygon points="556.9,331.4 572.5,326.1 585.6,339.2 588.2,349.7 559.5,347.1" fill="#9f9acf"/>
<polygon points="559.5,351.0 588.2,348.4 590.8,366.7 562.1,369.3" fill="#c2bee2"/>
<polygon points="562.1,369.3 590.8,366.7 593.5,386.3 564.7,387.6" fill="#c2bee2"/>
<polygon points="564.7,387.6 593.5,386.3 596.1,409.8 567.3,407.2" fill="#d6d3eb"/>
<polygon points="586.9,341.8 617.0,365.4 592.2,371.9" fill="#d6d3eb"/>
<polygon points="592.2,371.9 617.0,366.7 620.9,387.6 594.8,391.5" fill="#c2bee2"/>
<polygon points="594.8,391.5 622.2,387.6 624.8,412.4 597.4,409.8" fill="#e7e6f3"/>
<polygon points="617.0,365.4 640.0,354.9 640.0,390.2 622.2,391.5 620.9,387.6" fill="#e7e6f3" style="stroke:none"/>
<path d="M617.0,365.4L640.0,354.9M640.0,390.2L622.2,391.5L620.9,387.6L617.0,365.4" fill="none"/>
<polygon points="622.2,391.5 640.0,390.2 640.0,415.0 624.8,412.4" fill="#f8f7fb" style="stroke:none"/>
<path d="M622.2,391.5L640.0,390.2M640.0,415.0L624.8,412.4L622.2,391.5" fill="none"/>
<polygon points="580.4,307.8 592.2,300.0 598.7,300.0 606.5,305.2 594.8,317.0" fill="#9f9acf" style="stroke:none"/>
<path d="M580.4,307.8L592.2,300.0M598.7,300.0L606.5,305.2L594.8,317.0L580.4,307.8" fill="none"/>
<polygon points="572.5,326.1 580.4,314.4 601.3,330.1 592.2,341.8" fill="#f8f7fb"/>
<polygon points="594.8,317.0 606.5,305.2 617.0,313.1 603.9,327.5" fill="#d6d3eb"/>
<polygon points="601.3,330.1 617.0,314.4 635.3,327.5 619.6,343.1" fill="#ffffff"/>
<polygon points="617.0,313.1 627.5,305.2 640.0,314.4 640.0,326.1 635.3,327.5" fill="#ffffff" style="stroke:none"/>
<path d="M617.0,313.1L627.5,305.2L640.0,314.4M640.0,326.1L635.3,327.5L617.0,313.1" fill="none"/>
<polygon points="593.5,341.8 600.0,332.7 632.7,354.9 627.5,362.7" fill="#c2bee2"/>
<polygon points="619.6,343.1 635.3,327.5 640.0,330.1 640.0,352.3 632.7,354.9" fill="#f8f7fb" style="stroke:none"/>
<path d="M619.6,343.1L635.3,327.5L640.0,330.1M640.0,352.3L632.7,354.9L619.6,343.1" fill="none"/>
<polygon points="627.5,362.7 632.7,354.9 640.0,352.3 640.0,354.9 617.0,365.4" fill="#c2bee2" style="stroke:none"/>
<path d="M627.5,362.7L632.7,354.9L640.0,352.3M640.0,354.9L617.0,365.4L627.5,362.7" fill="none"/>
<polygon points="559.2,503.3 594.1,483.7 633.3,459.7 681.2,432.5 720.0,414.0 720.0,536.0 704.1,538.1 687.8,542.5 663.8,559.9 657.3,575.2 607.1,616.6 603.9,569.7 590.8,546.9 583.2,542.5" fill="#f8f7fb" style="stroke:none"/>
<polygon points="596.3,444.5 635.5,445.6 648.5,448.8 651.8,448.8 633.3,459.7 596.3,458.6" fill="#ead6d3"/>
<polygon points="635.5,427.0 661.6,428.1 659.4,433.6 646.4,435.8 647.5,445.6 635.5,444.5" fill="#f6edec"/>
<polygon points="647.5,435.8 659.4,433.6 681.2,432.5 651.8,447.7 647.5,445.6" fill="#f6edec"/>
<polygon points="597.3,423.8 634.4,425.9 635.5,444.5 597.3,443.4" fill="#d6d3eb"/>
<polygon points="559.2,421.6 597.3,422.7 597.3,442.3 558.1,441.2" fill="#d6d3eb"/>
<polygon points="558.1,441.2 583.2,442.3 581.0,455.4 558.1,454.3" fill="#d6d3eb"/>
<polygon points="583.2,442.3 596.3,443.4 595.2,472.8 586.4,485.9 581.0,472.8" fill="#f8f7fb"/>
<polygon points="595.2,458.6 633.3,459.7 615.9,470.6 594.1,483.7 595.2,472.8" fill="#f8f7fb"/>
<polygon points="530.9,455.4 544.0,455.4 541.8,492.4 529.8,491.3" fill="#f8f7fb"/>
<polygon points="544.0,455.4 557.0,456.4 554.9,492.4 541.8,492.4" fill="#f8f7fb"/>
<polygon points="557.0,456.4 570.1,456.4 567.9,494.6 554.9,492.4" fill="#f8f7fb"/>
<polygon points="570.1,456.4 581.0,455.4 581.0,472.8 586.4,485.9 567.9,495.7" fill="#f8f7fb"/>
<polygon points="528.7,492.4 567.9,495.7 559.2,503.3 528.7,504.4" fill="#c2bee2"/>
<polygon points="533.1,433.6 545.1,433.6 546.1,439.0 558.1,440.1 558.1,454.3 533.1,455.4" fill="#f6edec"/>
<polygon points="533.1,420.5 559.2,421.6 558.1,440.1 546.1,439.0 545.1,433.6 533.1,433.6" fill="#f8f7fb"/>
<polygon points="563.6,409.6 648.5,414.0 648.5,427.0 597.3,423.8 559.2,421.6" fill="#d6d3eb"/>
<polygon points="645.3,390.0 659.4,390.0 672.5,403.1 661.6,414.0 661.6,428.1 648.5,427.0" fill="#f8f7fb" style="stroke:none"/>
<path d="M659.4,390.0L672.5,403.1L661.6,414.0L661.6,428.1L648.5,427.0L645.3,390.0" fill="none"/>
<polygon points="659.4,390.0 685.6,390.0 687.8,400.9 681.2,408.5 672.5,403.1" fill="#e7e6f3" style="stroke:none"/>
<path d="M685.6,390.0L687.8,400.9L681.2,408.5L672.5,403.1L659.4,390.0" fill="none"/>
<polygon points="685.6,390.0 713.9,390.0 712.8,398.7 707.4,404.2 696.5,405.3 687.8,400.9" fill="#ffffff" style="stroke:none"/>
<path d="M713.9,390.0L712.8,398.7L707.4,404.2L696.5,405.3L687.8,400.9L685.6,390.0" fill="none"/>
<polygon points="681.2,408.5 687.8,400.9 696.5,405.3 707.4,404.2 712.8,398.7 713.9,390.0 720.0,390.0 720.0,411.8 698.6,423.8" fill="#ead6d3" style="stroke:none"/>
<path d="M681.2,408.5L687.8,400.9L696.5,405.3L707.4,404.2L712.8,398.7L713.9,390.0M720.0,411.8L698.6,423.8L681.2,408.5" fill="none"/>
<polygon points="661.6,414.0 672.5,403.1 681.2,408.5 698.6,423.8 681.2,431.4 661.6,428.1" fill="#f8f7fb"/>
<polygon points="681.2,432.5 698.6,423.8 720.0,414.0 720.0,461.9 692.1,466.3 683.4,433.6" fill="#f8f7fb" style="stroke:none"/>
<path d="M681.2,432.5L698.6,423.8L720.0,414.0M720.0,461.9L692.1,466.3L683.4,433.6L681.2,432.5" fill="none"/>
<polygon points="698.6,423.8 720.0,414.0 720.0,433.6 703.0,440.1" fill="#f6edec" style="stroke:none"/>
<path d="M698.6,423.8L720.0,414.0M720.0,433.6L703.0,440.1L698.6,423.8" fill="none"/>
<polygon points="662.7,444.5 682.3,433.6 692.1,466.3 688.8,476.1 670.3,478.2" fill="#e7e6f3"/>
<polygon points="647.5,453.2 662.7,444.5 670.3,478.2 654.0,482.6" fill="#e7e6f3"/>
<polygon points="635.5,459.7 647.5,453.2 654.0,482.6 658.3,510.9 646.4,514.2" fill="#ffffff"/>
<polygon points="654.0,482.6 670.3,478.2 674.7,505.5 658.3,509.8" fill="#d6d3eb"/>
<polygon points="670.3,478.2 688.8,475.0 695.4,501.1 674.7,505.5" fill="#e7e6f3"/>
<polygon points="619.1,469.5 633.3,460.8 639.8,494.6 624.6,496.8" fill="#ead6d3"/>
<polygon points="588.6,485.9 619.1,469.5 624.6,496.8 599.5,502.2" fill="#f8f7fb"/>
<polygon points="692.1,466.3 707.4,464.1 711.7,489.1 696.5,492.4" fill="#ead6d3"/>
<polygon points="707.4,464.1 720.0,461.9 720.0,488.0 711.7,489.1" fill="#e7e6f3" style="stroke:none"/>
<path d="M707.4,464.1L720.0,461.9M720.0,488.0L711.7,489.1L707.4,464.1" fill="none"/>
<polygon points="658.3,510.9 695.4,501.1 700.8,520.7 667.1,528.3 662.7,518.5" fill="#f8f7fb"/>
<polygon points="695.4,492.4 711.7,489.1 720.0,488.0 720.0,536.0 705.2,538.1 700.8,520.7" fill="#f6edec" style="stroke:none"/>
<path d="M695.4,492.4L711.7,489.1L720.0,488.0M720.0,536.0L705.2,538.1L700.8,520.7L695.4,492.4" fill="none"/>
<polyline points="704.1,491.3 712.8,537.1" fill="none"/>
<polygon points="667.1,528.3 700.8,520.7 704.1,538.1 670.3,546.9" fill="#f8f7fb"/>
<polygon points="646.4,514.2 658.3,510.9 662.7,518.5 670.3,546.9 652.9,551.2 650.7,533.8" fill="#e7e6f3"/>
<polygon points="611.5,501.1 624.6,497.8 628.9,515.3 633.3,514.2 635.5,528.3 618.0,520.7" fill="#e7e6f3"/>
<polygon points="624.6,496.8 639.8,494.6 646.4,514.2 650.7,533.8 635.5,528.3 633.3,514.2 628.9,515.3" fill="#f8f7fb"/>
<polygon points="559.2,503.3 571.2,496.8 585.4,518.5 598.4,538.1 590.8,546.9 583.2,542.5 585.4,536.0 575.6,518.5" fill="#f8f7fb"/>
<polygon points="571.2,496.8 578.8,493.5 601.7,521.8 594.1,528.3 585.4,518.5" fill="#e7e6f3"/>
<polygon points="578.8,493.5 588.6,485.9 599.5,502.2 611.5,501.1 618.0,520.7 609.3,514.2 606.1,522.9 601.7,521.8" fill="#f8f7fb"/>
<polygon points="590.8,546.9 598.4,538.1 594.1,528.3 602.8,521.8 618.0,540.3 600.6,557.8" fill="#d6d3eb"/>
<polygon points="606.1,522.9 609.3,514.2 618.0,520.7 635.5,528.3 650.7,533.8 652.9,551.2 642.0,552.3 618.0,540.3" fill="#ead6d3"/>
<polygon points="603.9,569.7 611.5,571.9 623.5,587.2 614.8,595.9 620.2,604.6 608.2,614.4" fill="#ead6d3"/>
<polygon points="220.0,760.0 420.0,760.0 420.0,999.9 287.5,999.9 289.7,990.9 284.3,982.2 261.4,995.3 257.0,990.9 244.0,990.9 238.5,984.4 246.1,969.2 241.8,962.6 252.7,949.5 248.3,938.6 239.6,940.8 235.3,932.1 230.9,921.2 222.2,908.1 220.0,901.6" fill="#e7e6f3" style="stroke:none"/>
<polygon points="246.1,760.0 258.1,760.0 277.7,776.3 262.5,792.7 241.8,775.3" fill="#ffffff" style="stroke:none"/>
<path d="M258.1,760.0L277.7,776.3L262.5,792.7L241.8,775.3L246.1,760.0" fill="none"/>
<polygon points="258.1,760.0 285.4,760.0 302.8,773.1 295.2,781.8 277.7,776.3" fill="#e7e6f3" style="stroke:none"/>
<path d="M285.4,760.0L302.8,773.1L295.2,781.8L277.7,776.3L258.1,760.0" fill="none"/>
<polygon points="283.2,760.0 303.9,760.0 315.9,769.8 302.8,773.1" fill="#c2bee2" style="stroke:none"/>
<path d="M303.9,760.0L315.9,769.8L302.8,773.1L283.2,760.0" fill="none"/>
<polygon points="315.9,769.8 324.6,764.4 340.9,779.6 333.3,790.5" fill="#c2bee2"/>
<polygon points="315.9,760.0 350.7,760.0 344.2,775.3 340.9,779.6 324.6,764.4" fill="#ead6d3" style="stroke:none"/>
<path d="M350.7,760.0L344.2,775.3L340.9,779.6L324.6,764.4L315.9,760.0" fill="none"/>
<polygon points="303.9,760.0 315.9,760.0 324.6,764.4 315.9,769.8" fill="#f8f7fb" style="stroke:none"/>
<path d="M315.9,760.0L324.6,764.4L315.9,769.8L303.9,760.0" fill="none"/>
<polygon points="296.3,781.8 305.0,772.0 331.1,792.7 322.4,804.7" fill="#f8f7fb"/>
<polygon points="262.5,777.4 277.7,776.3 295.2,781.8 287.5,791.6" fill="#f8f7fb"/>
<polygon points="287.5,792.7 296.3,781.8 322.4,804.7 313.7,815.6" fill="#ffffff"/>
<polygon points="262.5,798.1 267.9,792.7 307.1,823.2 302.8,827.5" fill="#f6edec"/>
<polygon points="278.8,800.3 287.5,792.7 313.7,815.6 307.1,823.2" fill="#d6d3eb"/>
<polygon points="264.7,816.6 272.3,807.9 302.8,827.5 291.9,840.6 272.3,827.5 271.2,823.2" fill="#c2bee2"/>
<polygon points="249.4,816.6 261.4,803.6 272.3,807.9 264.7,816.6 271.2,823.2 263.6,836.3" fill="#ffffff"/>
<polygon points="241.8,888.5 279.9,851.5 289.7,861.3 252.7,897.3" fill="#f8f7fb"/>
<polygon points="252.7,897.3 289.7,861.3 293.0,864.6 291.9,868.9 272.3,888.5 278.8,892.9 263.6,908.1 259.2,903.8" fill="#ffffff"/>
<polygon points="262.5,903.8 271.2,895.1 302.8,922.3 294.1,932.1" fill="#f6edec"/>
<polygon points="271.2,895.1 278.8,886.4 307.1,912.5 309.3,923.4 302.8,922.3" fill="#ffffff"/>
<polygon points="279.9,884.2 293.0,866.8 299.5,858.0 307.1,899.4 308.2,912.5" fill="#d6d3eb"/>
<polygon points="238.5,984.4 246.1,969.2 241.8,962.6 270.1,951.7 287.5,940.8 291.9,943.0 310.4,959.3 306.1,964.8 300.6,980.0 289.7,990.9 284.3,982.2 261.4,995.3 257.0,990.9 244.0,990.9" fill="#c2bee2"/>
<polygon points="235.3,932.1 254.9,925.6 260.3,919.0 254.9,912.5 263.6,908.1 294.1,932.1 287.5,940.8 270.1,951.7 265.8,945.2 252.7,949.5 248.3,938.6 239.6,940.8" fill="#e7e6f3"/>
<polygon points="287.5,940.8 294.1,932.1 302.8,922.3 309.3,923.4 313.7,952.8 310.4,959.3 291.9,943.0" fill="#d6d3eb"/>
<polygon points="310.4,927.8 331.1,924.5 338.7,934.3 337.6,949.5 314.8,952.8" fill="#ead6d3"/>
<polygon points="310.4,959.3 313.7,952.8 337.6,949.5 357.3,947.4 356.2,988.8 324.6,984.4 307.1,980.0 300.6,980.0 306.1,964.8" fill="#c2bee2"/>
<polygon points="357.3,947.4 376.9,945.2 382.3,981.1 357.3,985.5" fill="#c2bee2"/>
<polygon points="376.9,945.2 398.6,941.9 392.1,980.0 382.3,981.1" fill="#e7e6f3"/>
<polygon points="398.6,941.9 420.0,938.6 420.0,977.9 392.1,980.0" fill="#e7e6f3" style="stroke:none"/>
<path d="M398.6,941.9L420.0,938.6M420.0,977.9L392.1,980.0L398.6,941.9" fill="none"/>
<polygon points="350.7,760.0 376.9,760.0 381.2,781.8 354.0,787.2 344.2,775.3" fill="#f8f7fb" style="stroke:none"/>
<path d="M376.9,760.0L381.2,781.8L354.0,787.2L344.2,775.3L350.7,760.0" fill="none"/>
<polygon points="376.9,760.0 394.3,760.0 398.6,794.9 389.9,797.0 388.8,784.0 381.2,781.8" fill="#e7e6f3" style="stroke:none"/>
<path d="M394.3,760.0L398.6,794.9L389.9,797.0L388.8,784.0L381.2,781.8L376.9,760.0" fill="none"/>
<polygon points="394.3,760.0 405.2,760.0 407.4,795.9 398.6,794.9" fill="#d6d3eb" style="stroke:none"/>
<path d="M405.2,760.0L407.4,795.9L398.6,794.9L394.3,760.0" fill="none"/>
<polygon points="405.2,764.4 420.0,763.3 420.0,794.9 407.4,795.9" fill="#d6d3eb" style="stroke:none"/>
<path d="M405.2,764.4L420.0,763.3M420.0,794.9L407.4,795.9L405.2,764.4" fill="none"/>
<polygon points="333.3,790.5 340.9,779.6 344.2,775.3 354.0,787.2 356.2,806.8 350.7,803.6" fill="#c2bee2"/>
<polygon points="354.0,787.2 361.6,788.3 362.7,800.3 355.1,801.4" fill="#c2bee2"/>
<polygon points="362.7,787.2 388.8,784.0 389.9,797.0 362.7,800.3" fill="#d6d3eb"/>
<polygon points="355.1,802.5 389.9,798.1 391.0,812.3 357.3,817.7" fill="#d6d3eb"/>
<polygon points="357.3,817.7 386.7,814.5 387.8,830.8 362.7,834.1 359.4,834.1" fill="#c2bee2"/>
<polygon points="391.0,798.1 409.5,795.9 411.7,821.0 407.4,823.2 407.4,831.9 389.9,835.2 387.8,830.8 386.7,814.5 391.0,812.3" fill="#f8f7fb"/>
<polygon points="409.5,795.9 420.0,794.9 420.0,851.5 413.9,853.7 412.8,845.0 406.3,846.1 407.4,831.9 407.4,823.2 411.7,821.0" fill="#f8f7fb" style="stroke:none"/>
<path d="M409.5,795.9L420.0,794.9M420.0,851.5L413.9,853.7L412.8,845.0L406.3,846.1L407.4,831.9L407.4,823.2L411.7,821.0L409.5,795.9" fill="none"/>
<polygon points="363.8,835.2 387.8,831.9 389.9,853.7 381.2,860.2 368.1,859.1" fill="#c2bee2"/>
<polygon points="322.4,804.7 333.3,791.6 350.7,803.6 356.2,806.8 358.3,833.0 337.6,836.3 334.4,812.3" fill="#e7e6f3"/>
<polygon points="294.1,846.1 322.4,805.8 334.4,812.3 337.6,836.3 320.2,838.4" fill="#f8f7fb"/>
<polygon points="291.9,847.1 307.1,851.5 310.4,868.9 313.7,898.3 307.1,899.4 299.5,858.0" fill="#f8f7fb"/>
<polygon points="307.1,851.5 320.2,839.5 323.5,866.8 310.4,868.9" fill="#e7e6f3"/>
<polygon points="320.2,839.5 338.7,836.3 342.0,864.6 326.8,868.9 323.5,866.8" fill="#e7e6f3"/>
<polygon points="338.7,836.3 359.4,834.1 363.8,835.2 368.1,859.1 366.0,877.6 351.8,878.7 349.6,850.4 347.5,849.3 348.5,864.6 342.0,864.6" fill="#d6d3eb"/>
<polygon points="348.5,849.3 363.8,847.1 366.0,877.6 351.8,878.7" fill="#e7e6f3"/>
<polygon points="368.1,860.2 381.2,860.2 385.6,888.5 364.9,890.7 366.0,877.6" fill="#ffffff"/>
<polygon points="381.2,860.2 389.9,853.7 394.3,886.4 385.6,888.5" fill="#e7e6f3"/>
<polygon points="389.9,835.2 406.3,833.0 406.3,846.1 412.8,845.0 413.9,853.7 420.0,851.5 420.0,884.2 394.3,886.4" fill="#e7e6f3" style="stroke:none"/>
<path d="M389.9,835.2L406.3,833.0L406.3,846.1L412.8,845.0L413.9,853.7L420.0,851.5M420.0,884.2L394.3,886.4L389.9,835.2" fill="none"/>
<polygon points="310.4,868.9 323.5,866.8 326.8,868.9 331.1,895.1 313.7,898.3" fill="#e7e6f3"/>
<polygon points="326.8,868.9 342.0,864.6 345.3,892.9 331.1,895.1" fill="#d6d3eb"/>
<polygon points="342.0,864.6 348.5,864.6 351.8,878.7 364.9,877.6 364.9,890.7 345.3,892.9" fill="#c2bee2"/>
<polygon points="307.1,899.4 327.8,897.3 332.2,923.4 310.4,926.7" fill="#d6d3eb"/>
<polygon points="327.8,897.3 368.1,891.8 370.3,903.8 330.0,909.2" fill="#f8f7fb"/>
<polygon points="330.0,909.2 370.3,903.8 371.4,916.9 350.7,920.1 351.8,922.3 332.2,923.4" fill="#f8f7fb"/>
<polygon points="368.1,891.8 385.6,889.6 388.8,914.7 371.4,916.9" fill="#e7e6f3"/>
<polygon points="385.6,889.6 420.0,885.3 420.0,899.4 398.6,901.6 400.8,927.8 393.2,940.8 388.8,914.7" fill="#f8f7fb" style="stroke:none"/>
<path d="M385.6,889.6L420.0,885.3M420.0,899.4L398.6,901.6L400.8,927.8L393.2,940.8L388.8,914.7L385.6,889.6" fill="none"/>
<polygon points="398.6,901.6 420.0,899.4 420.0,925.6 400.8,927.8" fill="#c2bee2" style="stroke:none"/>
<path d="M398.6,901.6L420.0,899.4M420.0,925.6L400.8,927.8L398.6,901.6" fill="none"/>
<polygon points="332.2,924.5 351.8,922.3 350.7,920.1 370.3,918.0 372.5,943.0 350.7,947.4 342.0,940.8 338.7,934.3" fill="#f8f7fb"/>
<polygon points="371.4,916.9 388.8,914.7 393.2,940.8 372.5,943.0" fill="#d6d3eb"/>
<polygon points="393.2,940.8 400.8,927.8 420.0,925.6 420.0,938.6 398.6,941.9" fill="#e7e6f3" style="stroke:none"/>
<path d="M393.2,940.8L400.8,927.8L420.0,925.6M420.0,938.6L398.6,941.9L393.2,940.8" fill="none"/>
<polygon points="220.7,997.6 212.5,995.9 199.4,999.2 186.3,1009.0 179.8,1022.1 183.1,1035.2 194.5,1046.6 212.5,1054.8 228.2,1058.0" fill="#f8f7fb"/>
<polygon points="220.7,997.6 248.4,999.2 250.1,1004.1 268.0,1009.0 284.4,1013.9 282.7,1017.2 274.6,1018.8 225.6,1027.0" fill="#d6d3eb"/>
<polygon points="225.6,1027.0 274.6,1018.8 276.2,1031.9 227.2,1040.1" fill="#e7e6f3"/>
<polygon points="227.2,1040.1 276.2,1031.9 277.2,1046.6 255.0,1049.9 228.8,1047.6" fill="#c2bee2"/>
<polygon points="228.8,1047.6 255.0,1049.9 277.2,1046.6 278.8,1058.0 229.8,1058.0" fill="#f8f7fb"/>
<polygon points="274.6,1018.8 282.7,1017.2 313.8,1013.9 315.4,1035.2 300.7,1040.1 278.8,1048.2" fill="#e7e6f3"/>
<polygon points="228.2,1058.0 278.8,1058.0 300.7,1040.1 315.4,1035.2 343.2,1035.8 362.8,1038.4 382.4,1036.8 411.8,1038.4 426.5,1030.3 457.6,1025.4 470.0,1023.7 470.0,1038.4 428.2,1045.6 382.4,1053.8 313.8,1065.2 229.8,1071.1" fill="#e7e6f3" style="stroke:none"/>
<path d="M228.2,1058.0L278.8,1058.0L300.7,1040.1L315.4,1035.2L343.2,1035.8L362.8,1038.4L382.4,1036.8L411.8,1038.4L426.5,1030.3L457.6,1025.4L470.0,1023.7M470.0,1038.4L428.2,1045.6L382.4,1053.8L313.8,1065.2L229.8,1071.1L228.2,1058.0" fill="none"/>
<polygon points="282.7,1017.2 284.4,1012.3 297.5,1009.0 300.7,999.2 292.5,995.9 300.7,981.2 310.5,979.6 320.3,986.1 356.3,989.4 356.9,1009.0 323.6,1012.3 325.2,1035.2 315.4,1035.2 313.8,1013.9" fill="#cda29c"/>
<polygon points="323.6,1012.3 348.1,1009.0 349.1,1036.8 325.2,1035.2" fill="#f6edec"/>
<polygon points="348.1,1009.0 356.9,1009.0 356.3,989.4 395.5,981.2 392.2,995.9 372.6,997.6 362.8,1038.4 349.1,1036.8" fill="#f8f7fb"/>
<polygon points="366.1,1017.2 387.3,1007.4 384.1,1037.5 363.5,1038.4" fill="#f6edec"/>
<polygon points="372.6,997.6 392.2,1000.8 387.3,1007.4 366.1,1017.2" fill="#d6d3eb"/>
<polygon points="392.2,981.2 423.3,978.0 424.2,995.9 389.0,1005.8 392.2,995.9" fill="#d6d3eb"/>
<polygon points="387.3,1007.4 424.2,996.6 424.9,1009.0 385.7,1018.8" fill="#e7e6f3"/>
<polygon points="385.7,1018.8 424.9,1009.0 425.6,1020.5 384.1,1030.3" fill="#d6d3eb"/>
<polygon points="384.1,1030.3 408.6,1025.4 411.2,1038.4 384.1,1037.5" fill="#f6edec"/>
<polygon points="408.6,1023.7 425.6,1020.5 426.5,1030.3 411.8,1038.4" fill="#ffffff"/>
<polygon points="424.2,991.0 439.6,989.4 425.6,1020.5" fill="#ffffff"/>
<polygon points="423.3,978.0 470.0,976.3 470.0,987.8 454.3,991.0 424.9,991.0" fill="#c4918a" style="stroke:none"/>
<path d="M423.3,978.0L470.0,976.3M470.0,987.8L454.3,991.0L424.9,991.0L423.3,978.0" fill="none"/>
<polygon points="439.6,989.4 454.3,991.0 455.9,1025.4 425.6,1018.8" fill="#c4918a"/>
<polygon points="426.5,1020.5 454.3,1025.4 457.6,1040.1 428.2,1045.6" fill="#f8f7fb"/>
<polygon points="454.3,995.9 470.0,994.3 470.0,1009.0 455.9,1010.7" fill="#e7e6f3" style="stroke:none"/>
<path d="M454.3,995.9L470.0,994.3M470.0,1009.0L455.9,1010.7L454.3,995.9" fill="none"/>
<polygon points="455.9,1010.7 470.0,1009.0 470.0,1023.7 457.6,1025.4" fill="#d6d3eb" style="stroke:none"/>
<path d="M455.9,1010.7L470.0,1009.0M470.0,1023.7L457.6,1025.4L455.9,1010.7" fill="none"/>
<polygon points="241.9,969.8 251.7,960.0 300.7,960.0 313.8,960.0 300.7,979.6 292.5,995.9 284.4,982.9 277.8,992.7 258.2,995.9 240.3,987.8 237.0,982.9 245.2,976.3" fill="#c2bee2" style="stroke:none"/>
<path d="M241.9,969.8L251.7,960.0M313.8,960.0L300.7,979.6L292.5,995.9L284.4,982.9L277.8,992.7L258.2,995.9L240.3,987.8L237.0,982.9L245.2,976.3L241.9,969.8" fill="none"/>
<polygon points="300.7,981.2 313.8,960.0 356.3,960.0 356.9,989.4 320.3,986.1 310.5,979.6" fill="#c2bee2" style="stroke:none"/>
<path d="M300.7,981.2L313.8,960.0M356.3,960.0L356.9,989.4L320.3,986.1L310.5,979.6L300.7,981.2" fill="none"/>
<polygon points="356.3,960.0 379.2,960.0 382.4,982.9 356.9,987.8" fill="#c2bee2" style="stroke:none"/>
<path d="M379.2,960.0L382.4,982.9L356.9,987.8L356.3,960.0" fill="none"/>
<polygon points="379.2,960.0 395.5,960.0 392.2,981.2 382.4,982.9" fill="#e7e6f3" style="stroke:none"/>
<path d="M395.5,960.0L392.2,981.2L382.4,982.9L379.2,960.0" fill="none"/>
<polygon points="395.5,960.0 421.6,960.0 423.3,978.0 392.2,981.2" fill="#e7e6f3" style="stroke:none"/>
<path d="M421.6,960.0L423.3,978.0L392.2,981.2L395.5,960.0" fill="none"/>
<polygon points="421.6,964.9 454.3,963.3 457.6,974.7 423.3,978.0" fill="#f6edec"/>
<polygon points="211.9,365.2 215.4,360.0 269.4,360.0 265.9,370.5 250.3,367.0 241.5,373.9 217.1,367.8" fill="#ffffff" style="stroke:none"/>
<path d="M211.9,365.2L215.4,360.0M269.4,360.0L265.9,370.5L250.3,367.0L241.5,373.9L217.1,367.8L211.9,365.2" fill="none"/>
<polyline points="227.6,360.0 220.6,368.7" fill="none"/>
<polyline points="241.5,360.0 236.3,373.1" fill="none"/>
<polygon points="187.5,379.2 206.7,366.1 217.1,367.8 211.9,382.7 227.6,405.3 236.3,433.2 245.0,454.1 243.3,464.6 238.1,473.3 232.8,471.5 230.2,476.8 226.7,480.3 224.1,475.0 196.2,471.5 191.0,473.3 188.4,468.9 185.8,462.8 182.3,459.3 174.4,456.7 171.8,452.4 177.9,445.4 171.0,439.3 163.1,448.9 156.1,453.2 154.4,450.6 161.4,441.9 156.1,434.9 154.4,429.7 148.3,424.5 150.0,412.3 152.7,407.1 158.8,401.0 169.2,394.9 176.2,389.6 178.8,386.1 182.3,387.9 185.8,384.4" fill="#9f9acf"/>
<polygon points="176.2,397.5 190.1,380.9 193.6,385.3 180.5,401.0" fill="#ffffff"/>
<polygon points="186.6,409.7 209.3,382.7 227.6,405.3 235.4,429.7 225.0,431.5 223.2,428.8 217.1,428.0 216.3,423.6 210.2,421.0 199.7,412.3 193.6,415.8" fill="#9f9acf"/>
<polygon points="188.4,427.1 199.7,413.2 209.3,421.0 215.4,424.5 216.8,428.8 222.4,429.7 225.0,431.8 232.0,431.1 227.6,445.4" fill="#ffffff"/>
<polyline points="148.3,412.3 154.4,412.3" fill="none"/>
<polyline points="147.4,416.1 153.5,416.1" fill="none"/>
<polyline points="148.3,424.8 154.4,423.1" fill="none"/>
<polyline points="169.2,457.6 175.3,447.1" fill="none"/>
<polyline points="175.3,466.3 184.0,462.0" fill="none"/>
<polyline points="205.8,482.0 216.3,461.1" fill="none"/>
<polyline points="207.6,489.0 211.9,480.3" fill="none"/>
<polygon points="151.8,455.9 157.9,455.0 166.6,494.2 167.5,492.5 186.6,489.8 190.1,473.3 193.6,475.0 189.3,495.1 167.5,498.6 164.0,495.9 156.1,480.3" fill="#9f9acf"/>
<polygon points="243.3,464.6 245.9,457.6 252.0,466.3 262.5,482.0 259.0,492.5 220.6,551.9 147.4,551.9 152.7,547.4 158.8,544.7 164.9,549.1 161.4,536.0 157.9,529.9 167.5,522.1 173.6,525.6 182.3,530.8 187.5,529.9 176.2,516.9 181.4,513.4 201.5,526.4 204.1,523.8 192.7,508.1 198.0,505.5 211.9,513.4 217.1,511.6 221.5,508.1 215.4,497.7 220.6,495.9 234.6,507.3 240.7,501.2 228.5,486.4 231.1,483.7 238.1,480.3 238.1,473.3" fill="#d9b4af" style="stroke:none"/>
<path d="M243.3,464.6L245.9,457.6L252.0,466.3L262.5,482.0L259.0,492.5L220.6,551.9M147.4,551.9L152.7,547.4L158.8,544.7L164.9,549.1L161.4,536.0L157.9,529.9L167.5,522.1L173.6,525.6L182.3,530.8L187.5,529.9L176.2,516.9L181.4,513.4L201.5,526.4L204.1,523.8L192.7,508.1L198.0,505.5L211.9,513.4L217.1,511.6L221.5,508.1L215.4,497.7L220.6,495.9L234.6,507.3L240.7,501.2L228.5,486.4L231.1,483.7L238.1,480.3L238.1,473.3L243.3,464.6" fill="none"/>
<polygon points="217.1,367.8 241.5,373.9 227.6,405.3 211.9,382.7" fill="#ead6d3"/>
<polygon points="241.5,373.9 250.3,367.0 265.9,371.3 259.0,394.0 245.0,388.8 246.8,384.4 238.1,382.7" fill="#f6edec"/>
<polygon points="227.6,405.3 238.1,382.7 246.8,384.4 234.6,414.0" fill="#f8f7fb"/>
<polygon points="234.6,414.0 245.0,388.8 259.0,394.0 243.3,434.9 238.1,433.2" fill="#f6edec"/>
<polygon points="265.9,371.3 269.4,360.0 290.0,367.0 290.0,382.7 285.1,387.9 264.2,378.3" fill="#ead6d3" style="stroke:none"/>
<path d="M265.9,371.3L269.4,360.0L290.0,367.0M290.0,382.7L285.1,387.9L264.2,378.3L265.9,371.3" fill="none"/>
<polygon points="264.2,378.3 285.1,387.9 290.0,389.6 290.0,412.3 272.9,407.1 272.0,404.4 259.8,400.1 259.0,394.0" fill="#f6edec" style="stroke:none"/>
<path d="M264.2,378.3L285.1,387.9L290.0,389.6M290.0,412.3L272.9,407.1L272.0,404.4L259.8,400.1L259.0,394.0L264.2,378.3" fill="none"/>
<polygon points="259.0,394.0 259.8,400.1 272.0,404.4 272.9,407.1 290.0,412.3 290.0,417.5 283.4,429.7 265.1,428.0 257.2,436.7 250.3,452.4 243.3,434.9" fill="#ead6d3" style="stroke:none"/>
<path d="M259.0,394.0L259.8,400.1L272.0,404.4L272.9,407.1L290.0,412.3M290.0,417.5L283.4,429.7L265.1,428.0L257.2,436.7L250.3,452.4L243.3,434.9L259.0,394.0" fill="none"/>
<polygon points="250.3,452.4 257.2,436.7 265.1,428.0 283.4,429.7 290.0,419.3 290.0,464.6 283.4,473.3 274.7,494.2 257.2,473.3 252.0,466.3 245.9,457.6" fill="#e7e6f3" style="stroke:none"/>
<path d="M250.3,452.4L257.2,436.7L265.1,428.0L283.4,429.7L290.0,419.3M290.0,464.6L283.4,473.3L274.7,494.2L257.2,473.3L252.0,466.3L245.9,457.6L250.3,452.4" fill="none"/>
<polygon points="265.9,457.6 274.7,443.7 290.0,452.4 286.9,468.1" fill="#d6d3eb"/>
<polygon points="257.2,471.5 265.9,457.6 286.9,468.1 281.6,480.3 272.9,490.7" fill="#d6d3eb"/>
<polygon points="281.6,480.3 290.0,468.1 290.0,482.0" fill="#f6edec" style="stroke:none"/>
<path d="M281.6,480.3L290.0,468.1M290.0,482.0L281.6,480.3" fill="none"/>
<polygon points="274.7,494.2 281.6,480.3 290.0,483.7 290.0,504.7" fill="#ffffff" style="stroke:none"/>
<path d="M274.7,494.2L281.6,480.3L290.0,483.7M290.0,504.7L274.7,494.2" fill="none"/>
<polygon points="255.5,499.4 262.5,485.5 274.7,494.2 290.0,504.7 290.0,509.9 283.4,516.9" fill="#9f9acf" style="stroke:none"/>
<path d="M255.5,499.4L262.5,485.5L274.7,494.2L290.0,504.7M290.0,509.9L283.4,516.9L255.5,499.4" fill="none"/>
<polygon points="243.3,513.4 255.5,499.4 283.4,516.9 274.7,534.3" fill="#c2bee2"/>
<polygon points="274.7,534.3 283.4,516.9 290.0,511.6 290.0,541.3" fill="#c2bee2" style="stroke:none"/>
<path d="M274.7,534.3L283.4,516.9L290.0,511.6M290.0,541.3L274.7,534.3" fill="none"/>
<polygon points="222.4,551.9 245.0,513.4 274.7,534.3 260.7,551.9" fill="#ffffff" style="stroke:none"/>
<path d="M222.4,551.9L245.0,513.4L274.7,534.3L260.7,551.9" fill="none"/>
<polygon points="600.0,520.0 800.0,520.0 800.0,544.0 780.8,559.2 743.8,577.7 718.7,605.0 710.0,596.3 714.4,590.8 708.9,582.1 716.6,574.5 712.2,564.7 726.4,554.9 726.4,548.3 720.9,538.5 693.7,544.0 680.6,552.7 663.2,559.2 657.7,572.3 621.8,607.1 609.8,628.9 600.0,637.6" fill="#f8f7fb" style="stroke:none"/>
<polygon points="600.0,526.5 610.9,530.9 619.6,541.8 607.6,552.7 600.0,548.3" fill="#d6d3eb" style="stroke:none"/>
<path d="M600.0,526.5L610.9,530.9L619.6,541.8L607.6,552.7L600.0,548.3" fill="none"/>
<polygon points="608.7,520.0 619.6,520.0 632.7,533.1 652.3,540.7 653.4,552.7 639.2,552.7 626.1,544.0" fill="#ead6d3" style="stroke:none"/>
<path d="M619.6,520.0L632.7,533.1L652.3,540.7L653.4,552.7L639.2,552.7L626.1,544.0L608.7,520.0" fill="none"/>
<polygon points="604.4,554.9 619.6,541.8 632.7,562.5 617.4,575.6" fill="#e7e6f3"/>
<polygon points="632.7,559.2 639.2,552.7 653.4,552.7 657.7,571.2 643.6,583.2 630.5,569.0" fill="#f6edec"/>
<polygon points="617.4,575.6 629.4,569.0 643.6,583.2 621.8,600.6 615.3,596.3 622.9,589.7" fill="#f6edec"/>
<polygon points="604.4,570.1 617.4,575.6 622.9,589.7 615.3,596.3 613.1,609.3 608.7,602.8" fill="#ead6d3"/>
<polygon points="600.0,563.6 604.4,570.1 608.7,602.8 600.0,611.5" fill="#f8f7fb" style="stroke:none"/>
<path d="M600.0,563.6L604.4,570.1L608.7,602.8L600.0,611.5" fill="none"/>
<polygon points="600.0,611.5 608.7,602.8 609.8,637.6 600.0,638.7" fill="#e7e6f3" style="stroke:none"/>
<path d="M600.0,611.5L608.7,602.8L609.8,637.6L600.0,638.7" fill="none"/>
<polygon points="610.9,640.9 609.8,628.9 615.3,615.9 621.8,607.1 655.6,577.7 663.2,586.4 640.3,606.1 626.1,633.3" fill="#ffffff" style="stroke:none"/>
<polygon points="628.3,520.0 645.8,520.0 652.3,540.7 632.7,533.1" fill="#f8f7fb" style="stroke:none"/>
<path d="M645.8,520.0L652.3,540.7L632.7,533.1L628.3,520.0" fill="none"/>
<polygon points="645.8,524.4 665.4,520.0 669.7,544.0 652.3,548.3 652.3,540.7" fill="#e7e6f3"/>
<polygon points="652.3,548.3 669.7,544.0 693.7,541.8 720.9,538.5 693.7,544.0 680.6,552.7 663.2,559.2 657.7,572.3" fill="#f6edec"/>
<polygon points="665.4,520.0 700.2,520.0 703.5,537.4 669.7,544.0" fill="#f8f7fb" style="stroke:none"/>
<path d="M700.2,520.0L703.5,537.4L669.7,544.0L665.4,520.0" fill="none"/>
<polygon points="700.2,520.0 728.5,520.0 730.7,528.7 720.9,538.5 703.5,537.4" fill="#f6edec" style="stroke:none"/>
<path d="M728.5,520.0L730.7,528.7L720.9,538.5L703.5,537.4L700.2,520.0" fill="none"/>
<polygon points="720.9,538.5 730.7,528.7 800.0,520.0 800.0,544.0 780.8,559.2 762.3,569.0 743.8,577.7 730.7,555.9 726.4,548.3" fill="#f8f7fb" style="stroke:none"/>
<path d="M720.9,538.5L730.7,528.7L800.0,520.0M800.0,544.0L780.8,559.2L762.3,569.0L743.8,577.7L730.7,555.9L726.4,548.3L720.9,538.5" fill="none"/>
<polygon points="755.8,540.7 780.8,528.7 787.4,544.0 763.4,555.9" fill="#e7e6f3"/>
<polygon points="657.7,572.3 663.2,559.2 680.6,552.7 693.7,544.0 720.9,538.5 726.4,548.3 726.4,554.9 712.2,564.7 716.6,574.5 708.9,582.1 714.4,590.8 710.0,596.3 718.7,605.0 735.1,593.0 739.4,587.5 765.6,628.9 786.3,648.5 800.0,661.6 800.0,672.5 789.5,689.9 774.3,703.0 776.5,716.1 773.2,718.3 765.6,711.7 750.3,723.7 741.6,730.2 738.3,740.0 722.0,750.9 693.7,732.4 625.1,694.3 615.3,692.1 610.9,659.4 610.9,642.0 626.1,633.3 640.3,606.1 663.2,586.4" fill="#b06f67" style="stroke:none"/>
<polygon points="657.7,572.3 663.2,559.2 680.6,552.7 693.7,544.0 720.9,538.5 726.4,548.3 726.4,554.9 712.2,564.7 716.6,574.5 708.9,582.1 714.4,590.8 681.7,607.1 665.4,587.5" fill="#9d5550"/>
<polygon points="712.2,564.7 726.4,554.9 730.7,555.9 743.8,577.7 718.7,605.0 710.0,596.3 714.4,590.8 708.9,582.1 716.6,574.5" fill="#ffffff"/>
<polygon points="681.7,607.1 714.4,590.8 710.0,596.3 718.7,605.0 696.9,623.5" fill="#b06f67"/>
<polygon points="651.2,599.5 665.4,587.5 681.7,607.1 666.4,616.9" fill="#c4918a"/>
<polygon points="639.2,611.5 651.2,599.5 666.4,616.9 651.2,631.1 640.3,621.3" fill="#b06f67"/>
<polygon points="666.4,616.9 681.7,607.1 696.9,623.5 681.7,635.5" fill="#c4918a"/>
<polygon points="651.2,631.1 666.4,616.9 681.7,635.5 666.4,650.7" fill="#9d5550"/>
<polygon points="626.1,633.3 640.3,621.3 651.2,631.1 666.4,650.7 651.2,660.5" fill="#9d5550"/>
<polygon points="612.0,642.0 626.1,633.3 651.2,660.5 635.9,672.5" fill="#d9b4af"/>
<polygon points="610.9,642.0 612.0,642.0 635.9,672.5 615.3,692.1 610.9,659.4" fill="#c4918a"/>
<polygon points="711.1,612.6 725.3,600.6 741.6,616.9 725.3,631.1" fill="#d9b4af"/>
<polygon points="725.3,600.6 735.1,593.0 750.3,611.5 741.6,616.9" fill="#ead6d3"/>
<polygon points="735.1,593.0 739.4,587.5 765.6,628.9 756.9,638.7 750.3,611.5" fill="#b06f67"/>
<polygon points="696.9,623.5 711.1,612.6 725.3,631.1 713.3,640.9" fill="#d9b4af"/>
<polygon points="725.3,631.1 741.6,616.9 756.9,638.7 743.8,650.7" fill="#d9b4af"/>
<polygon points="713.3,640.9 725.3,631.1 743.8,650.7 730.7,661.6" fill="#9d5550"/>
<polygon points="743.8,650.7 756.9,638.7 774.3,659.4 761.2,670.3" fill="#c4918a"/>
<polygon points="756.9,638.7 765.6,628.9 786.3,648.5 774.3,659.4" fill="#b06f67"/>
<polygon points="730.7,661.6 743.8,650.7 761.2,670.3 746.0,682.3" fill="#c4918a"/>
<polygon points="666.4,650.7 691.5,638.7 730.7,661.6 746.0,682.3 715.5,703.0 691.5,713.9 646.8,683.4 651.2,660.5" fill="#b06f67"/>
<polygon points="665.4,670.3 680.6,656.2 691.5,676.9 680.6,688.8" fill="#9d5550"/>
<polygon points="695.9,670.3 706.8,660.5 722.0,676.9 711.1,687.8" fill="#9d5550"/>
<polyline points="680.6,656.2 711.1,687.8" fill="none"/>
<polyline points="691.5,644.2 722.0,676.9" fill="none"/>
<polyline points="665.4,670.3 695.9,705.2" fill="none"/>
<polyline points="665.4,670.3 691.5,644.2" fill="none"/>
<polyline points="680.6,688.8 706.8,660.5 713.3,652.9" fill="none"/>
<polyline points="695.9,705.2 722.0,676.9 730.7,661.6" fill="none"/>
<polyline points="666.4,650.7 696.9,624.6 713.3,640.9" fill="none"/>
<polygon points="715.5,692.1 741.6,672.5 746.0,682.3 722.0,701.9" fill="#c4918a"/>
<polygon points="667.5,699.7 680.6,688.8 695.9,705.2 689.3,712.8" fill="#c4918a"/>
<polygon points="628.3,685.6 651.2,661.6 665.4,670.3 647.9,685.6 639.2,693.2" fill="#9d5550"/>
<polygon points="647.9,685.6 665.4,670.3 680.6,688.8 667.5,699.7" fill="#b06f67"/>
<polygon points="693.7,732.4 700.2,719.3 715.5,703.0 746.0,682.3 774.3,715.0 773.2,718.3 765.6,711.7 750.3,723.7 741.6,730.2 738.3,740.0 722.0,750.9" fill="#9d5550"/>
<polygon points="615.3,692.1 628.3,685.6 639.2,693.2 646.8,683.4 691.5,713.9 700.2,719.3 693.7,732.4 625.1,694.3" fill="#b06f67"/>
<polygon points="746.0,682.3 761.2,670.3 774.3,659.4 786.3,648.5 800.0,661.6 800.0,672.5 789.5,689.9 774.3,703.0 776.5,716.1 773.2,718.3 774.3,715.0" fill="#c4918a" style="stroke:none"/>
<path d="M746.0,682.3L761.2,670.3L774.3,659.4L786.3,648.5L800.0,661.6M800.0,672.5L789.5,689.9L774.3,703.0L776.5,716.1L773.2,718.3L774.3,715.0L746.0,682.3" fill="none"/>
<polygon points="739.4,587.5 743.8,589.7 752.5,598.4 756.9,613.7 767.8,622.4 780.8,622.4 791.7,642.0 800.0,650.7 800.0,661.6 786.3,648.5 765.6,628.9" fill="#ffffff" style="stroke:none"/>
<polygon points="743.8,577.7 762.3,569.0 774.3,591.9 789.5,624.6 796.1,635.5 800.0,642.0 800.0,650.7 791.7,642.0 780.8,622.4 767.8,622.4 756.9,613.7 752.5,598.4 743.8,589.7 739.4,587.5" fill="#ead6d3" style="stroke:none"/>
<path d="M743.8,577.7L762.3,569.0L774.3,591.9L789.5,624.6L796.1,635.5L800.0,642.0M800.0,650.7L791.7,642.0L780.8,622.4L767.8,622.4L756.9,613.7L752.5,598.4L743.8,589.7L739.4,587.5L743.8,577.7" fill="none"/>
<polygon points="762.3,569.0 780.8,559.2 800.0,591.9 800.0,642.0 796.1,635.5 789.5,624.6 774.3,591.9" fill="#ead6d3" style="stroke:none"/>
<path d="M762.3,569.0L780.8,559.2L800.0,591.9M800.0,642.0L796.1,635.5L789.5,624.6L774.3,591.9L762.3,569.0" fill="none"/>
<polygon points="780.8,559.2 791.7,552.7 800.0,565.8 800.0,591.9" fill="#9d5550" style="stroke:none"/>
<path d="M780.8,559.2L791.7,552.7L800.0,565.8M800.0,591.9L780.8,559.2" fill="none"/>
<polygon points="262.7,258.8 275.8,254.8 283.7,258.8 286.3,254.8 292.8,256.1 295.4,252.2 303.3,252.2 304.6,249.6 328.1,250.9 329.4,248.3 335.4,248.8 334.6,258.8 329.4,273.1 328.1,277.1 309.8,276.5 308.5,281.0 281.0,279.7" fill="#cda29c"/>
<polygon points="252.3,283.6 262.7,266.6 279.7,279.7 277.1,295.4 271.9,300.6" fill="#f6edec"/>
<polygon points="239.2,315.0 251.0,288.8 264.1,294.1 254.9,321.5" fill="#f6edec"/>
<polygon points="264.1,294.1 271.9,295.4 262.7,324.1 254.9,322.8" fill="#c2bee2"/>
<polygon points="271.9,298.0 278.4,300.6 281.0,313.7 274.5,316.3 269.3,325.4 262.7,324.1" fill="#e7e6f3"/>
<polygon points="279.7,281.0 308.5,281.0 307.2,313.7 282.4,315.0 278.4,295.4" fill="#ead6d3"/>
<polygon points="300.7,282.3 309.8,276.5 328.1,277.1 328.1,298.0 316.3,295.4 308.5,292.7 300.7,292.7" fill="#ffffff"/>
<polygon points="308.5,294.1 316.3,295.4 328.1,299.3 334.6,322.8 320.3,324.1 322.9,345.0 307.2,338.5" fill="#9f9acf"/>
<polygon points="329.4,295.4 379.1,298.0 380.4,307.1 330.7,305.8" fill="#d6d3eb"/>
<polygon points="330.7,305.8 347.7,307.1 350.3,324.1 334.6,322.8" fill="#d6d3eb"/>
<polygon points="347.7,307.1 366.0,307.1 368.6,324.1 350.3,324.1" fill="#c2bee2"/>
<polygon points="366.0,307.1 380.4,307.1 383.0,325.4 368.6,324.1" fill="#d6d3eb"/>
<polygon points="380.4,308.4 401.3,308.4 411.8,295.4 419.6,294.1 423.5,320.2 383.0,325.4" fill="#d6d3eb"/>
<polygon points="282.4,315.0 307.2,313.7 307.2,338.5 288.9,332.0 283.7,328.0" fill="#e7e6f3"/>
<polygon points="269.3,325.4 274.5,316.3 281.0,313.7 283.7,328.0 288.9,332.0 285.0,349.0 266.7,342.4" fill="#ffffff"/>
<polygon points="234.0,320.2 269.3,328.0 266.7,341.1 231.4,330.7" fill="#ead6d3"/>
<polygon points="237.5,600.1 247.9,588.8 267.1,604.5 288.0,620.2 294.1,619.3 320.3,640.2 313.3,648.9 320.3,677.7 313.3,686.4 304.6,696.9 295.0,707.3 287.1,716.0 281.9,724.7 273.2,721.3 252.3,703.8 241.8,696.9 222.7,681.2 232.2,673.3 240.1,664.6 227.9,653.3 247.1,627.1 228.8,611.5" fill="#f8f7fb" style="stroke:none"/>
<polygon points="237.5,600.1 247.9,588.8 267.1,604.5 256.6,616.7" fill="#ead6d3"/>
<polygon points="228.8,611.5 237.5,600.1 256.6,616.7 247.1,627.1" fill="#ead6d3"/>
<polygon points="256.6,616.7 267.1,604.5 288.0,620.2 275.8,632.4" fill="#f8f7fb"/>
<polygon points="247.1,627.1 256.6,616.7 275.8,632.4 265.4,642.8" fill="#e7e6f3"/>
<polygon points="227.9,653.3 247.1,627.1 265.4,642.8 255.8,653.3 240.1,664.6" fill="#e7e6f3"/>
<polygon points="268.8,641.1 283.7,627.1 299.3,642.8 296.7,646.3 287.1,656.8" fill="#f6edec"/>
<polygon points="255.8,653.3 268.8,641.1 287.1,656.8 276.7,668.1" fill="#f6edec"/>
<polygon points="240.1,664.6 255.8,653.3 276.7,668.1 259.3,685.5 257.5,681.2" fill="#f8f7fb"/>
<polygon points="232.2,673.3 240.1,664.6 257.5,681.2 250.5,688.1" fill="#f6edec"/>
<polygon points="222.7,681.2 232.2,673.3 250.5,688.1 257.5,693.4 252.3,703.8 241.8,696.9" fill="#ffffff"/>
<polygon points="285.4,627.1 294.1,619.3 320.3,640.2 313.3,648.9" fill="#ead6d3"/>
<polygon points="287.1,656.8 296.7,646.3 299.3,642.8 306.3,651.5 313.3,660.3 314.2,670.7 320.3,677.7 313.3,686.4" fill="#f6edec"/>
<polygon points="276.7,668.1 287.1,656.8 313.3,686.4 304.6,696.9" fill="#e7e6f3"/>
<polygon points="267.1,677.7 276.7,668.1 304.6,696.9 295.0,707.3" fill="#e7e6f3"/>
<polygon points="259.3,685.5 267.1,677.7 295.0,707.3 287.1,716.0" fill="#f6edec"/>
<polygon points="252.3,703.8 259.3,693.4 283.7,716.0 287.1,716.0 281.9,724.7 273.2,721.3" fill="#e7e6f3"/>
<polygon points="219.2,623.7 228.8,611.5 247.1,627.1 237.5,638.5" fill="#c4918a"/>
<polygon points="209.6,636.7 219.2,623.7 237.5,638.5 227.9,653.3" fill="#b06f67"/>
<polygon points="207.8,677.7 227.9,654.2 240.1,664.6 232.2,673.3 222.7,681.2 213.1,686.4" fill="#b06f67"/>
<polygon points="362.7,560.0 460.0,560.0 460.0,751.9 401.1,751.9 392.4,690.7 373.2,607.1" fill="#e7e6f3" style="stroke:none"/>
<polygon points="395.0,567.0 413.3,560.0 415.9,572.2 402.8,579.2" fill="#c2bee2"/>
<polygon points="413.3,560.0 425.5,560.0 429.0,579.2 426.4,569.6 415.9,572.2" fill="#c2bee2" style="stroke:none"/>
<path d="M425.5,560.0L429.0,579.2L426.4,569.6L415.9,572.2L413.3,560.0" fill="none"/>
<polygon points="425.5,560.0 441.2,560.0 442.0,581.8 429.0,582.7" fill="#c2bee2" style="stroke:none"/>
<path d="M441.2,560.0L442.0,581.8L429.0,582.7L425.5,560.0" fill="none"/>
<polygon points="441.2,560.0 456.9,560.0 457.7,581.8 442.0,581.8" fill="#e7e6f3" style="stroke:none"/>
<path d="M456.9,560.0L457.7,581.8L442.0,581.8L441.2,560.0" fill="none"/>
<polygon points="456.9,560.0 460.0,560.0 460.0,582.7 457.7,581.8" fill="#d6d3eb" style="stroke:none"/>
<path d="M460.0,582.7L457.7,581.8L456.9,560.0" fill="none"/>
<polygon points="362.7,560.0 413.3,560.0 395.0,567.0 402.8,579.2 409.8,579.2 371.5,596.6" fill="#ffffff" style="stroke:none"/>
<path d="M413.3,560.0L395.0,567.0L402.8,579.2L409.8,579.2L371.5,596.6L362.7,560.0" fill="none"/>
<polygon points="409.8,579.2 426.4,569.6 429.0,582.7 429.8,586.1 411.5,588.8" fill="#ffffff"/>
<polygon points="371.5,596.6 409.8,579.2 411.5,588.8 373.2,607.1" fill="#d6d3eb"/>
<polygon points="409.8,591.4 429.8,585.3 430.7,601.8 415.9,602.7 415.0,594.9" fill="#c2bee2"/>
<polygon points="401.1,594.0 409.8,591.4 415.0,594.9 415.9,602.7 417.6,616.6 402.8,619.3 401.1,607.1 399.3,605.3" fill="#e7e6f3"/>
<polygon points="415.9,602.7 430.7,601.8 431.6,615.8 417.6,616.6" fill="#f8f7fb"/>
<polygon points="429.8,583.5 460.0,582.7 460.0,605.3 432.5,606.2" fill="#c2bee2" style="stroke:none"/>
<path d="M429.8,583.5L460.0,582.7M460.0,605.3L432.5,606.2L429.8,583.5" fill="none"/>
<polygon points="432.5,606.2 460.0,605.3 460.0,628.8 436.8,629.7 434.2,622.7" fill="#c2bee2" style="stroke:none"/>
<path d="M432.5,606.2L460.0,605.3M460.0,628.8L436.8,629.7L434.2,622.7L432.5,606.2" fill="none"/>
<polygon points="373.2,607.1 399.3,597.5 401.1,607.1 402.8,619.3 406.3,637.6 383.7,649.8" fill="#e7e6f3"/>
<polygon points="402.8,619.3 431.6,616.6 425.5,623.6 434.2,643.7 409.8,647.1 406.3,637.6" fill="#d6d3eb"/>
<polygon points="425.5,623.6 432.5,621.0 436.8,629.7 441.2,641.9 429.0,648.0" fill="#c2bee2"/>
<polygon points="429.0,648.0 441.2,641.9 449.9,654.1 430.7,666.3" fill="#c2bee2"/>
<polygon points="436.8,629.7 460.0,628.8 460.0,657.6 456.9,655.0 449.9,654.1 441.2,641.9" fill="#d6d3eb" style="stroke:none"/>
<path d="M436.8,629.7L460.0,628.8M460.0,657.6L456.9,655.0L449.9,654.1L441.2,641.9L436.8,629.7" fill="none"/>
<polygon points="383.7,649.8 395.0,644.5 402.0,685.5 392.4,690.7" fill="#f8f7fb"/>
<polygon points="395.0,644.5 406.3,638.4 413.3,678.5 402.0,685.5" fill="#f8f7fb"/>
<polygon points="408.9,647.1 429.0,641.9 430.7,666.3 414.2,677.6" fill="#e7e6f3"/>
<polygon points="430.7,666.3 449.9,654.1 456.9,655.0 460.0,657.6 460.0,671.5 439.4,673.3 432.5,673.3" fill="#e7e6f3" style="stroke:none"/>
<path d="M430.7,666.3L449.9,654.1L456.9,655.0L460.0,657.6M460.0,671.5L439.4,673.3L432.5,673.3L430.7,666.3" fill="none"/>
<polygon points="392.4,690.7 430.7,667.2 432.5,673.3 422.0,690.7 394.1,694.2" fill="#d6d3eb"/>
<polygon points="366.2,689.0 376.7,668.1 383.7,649.8 392.4,690.7 394.1,694.2 371.5,707.3" fill="#e7e6f3"/>
<polygon points="371.5,707.3 394.1,694.2 395.0,709.9 372.3,712.5" fill="#c2bee2"/>
<polygon points="394.1,694.2 422.0,690.7 425.5,704.7 395.0,709.9" fill="#d6d3eb"/>
<polygon points="422.0,675.0 432.5,673.3 437.7,716.9 429.0,717.7 425.5,704.7 422.0,690.7" fill="#f6edec"/>
<polygon points="432.5,674.2 440.3,673.3 443.8,697.7 437.7,702.9 435.9,702.9" fill="#f6edec"/>
<polygon points="440.3,673.3 460.0,671.5 460.0,713.4 437.7,716.9 435.9,702.9 437.7,702.9 443.8,697.7" fill="#ffffff" style="stroke:none"/>
<path d="M440.3,673.3L460.0,671.5M460.0,713.4L437.7,716.9L435.9,702.9L437.7,702.9L443.8,697.7L440.3,673.3" fill="none"/>
<polygon points="372.3,712.5 381.9,711.6 385.4,723.8 387.1,751.9 380.2,751.9 376.7,734.3" fill="#f6edec" style="stroke:none"/>
<path d="M372.3,712.5L381.9,711.6L385.4,723.8L387.1,751.9M380.2,751.9L376.7,734.3L372.3,712.5" fill="none"/>
<polygon points="381.9,711.6 395.0,709.9 397.6,734.3 401.1,751.9 390.6,751.9 385.4,723.8" fill="#c2bee2" style="stroke:none"/>
<path d="M381.9,711.6L395.0,709.9L397.6,734.3L401.1,751.9M390.6,751.9L385.4,723.8L381.9,711.6" fill="none"/>
<polygon points="395.0,709.9 413.3,707.3 415.9,736.0 400.2,737.8 397.6,734.3" fill="#e7e6f3"/>
<polygon points="413.3,707.3 422.0,705.5 425.5,704.7 429.0,717.7 430.7,748.2 420.3,750.0 415.9,736.0" fill="#c2bee2"/>
<polygon points="400.2,737.8 415.9,736.0 420.3,750.0 420.3,751.9 401.1,751.9" fill="#e7e6f3" style="stroke:none"/>
<path d="M400.2,737.8L415.9,736.0L420.3,750.0L420.3,751.9M401.1,751.9L400.2,737.8" fill="none"/>
<polygon points="429.0,717.7 448.1,716.0 451.6,746.5 431.6,748.2" fill="#e7e6f3"/>
<polygon points="448.1,716.0 460.0,714.2 460.0,744.7 451.6,746.5" fill="#f8f7fb" style="stroke:none"/>
<path d="M448.1,716.0L460.0,714.2M460.0,744.7L451.6,746.5L448.1,716.0" fill="none"/>
<polygon points="368.0,612.3 373.2,607.1 383.7,649.8 376.7,668.1 374.9,666.3" fill="#f6edec"/>
<polygon points="623.6,832.0 635.2,832.0 623.2,844.2 622.1,838.8" fill="#9f9acf" style="stroke:none"/>
<path d="M635.2,832.0L623.2,844.2L622.1,838.8L623.6,832.0" fill="none"/>
<polygon points="601.2,832.0 616.6,832.0 615.6,836.6 616.6,849.6 613.4,849.6 606.8,838.8" fill="#9f9acf" style="stroke:none"/>
<path d="M616.6,832.0L615.6,836.6L616.6,849.6L613.4,849.6L606.8,838.8L601.2,832.0" fill="none"/>
<polygon points="635.4,832.0 689.4,832.0 691.8,851.8 675.5,857.3 673.3,849.6 660.2,847.5 655.9,851.8 660.2,861.6 648.2,866.0 636.3,862.7 623.2,844.2" fill="#e7e6f3" style="stroke:none"/>
<path d="M689.4,832.0L691.8,851.8L675.5,857.3L673.3,849.6L660.2,847.5L655.9,851.8L660.2,861.6L648.2,866.0L636.3,862.7L623.2,844.2L635.4,832.0" fill="none"/>
<polygon points="697.0,832.0 736.3,832.0 733.2,845.3 721.2,850.7 704.9,855.1 696.2,845.3" fill="#d6d3eb" style="stroke:none"/>
<path d="M736.3,832.0L733.2,845.3L721.2,850.7L704.9,855.1L696.2,845.3L697.0,832.0" fill="none"/>
<polygon points="611.4,961.5 616.2,968.7 611.4,970.0" fill="#c2bee2" style="stroke:none"/>
<polyline points="611.4,961.5 616.2,968.7 611.4,970.0" fill="none"/>
<polygon points="140.0,740.0 251.5,740.0 244.6,792.3 251.5,832.4 260.3,842.8 249.8,877.7 253.3,881.2 230.6,900.3 237.6,914.3 230.6,923.0 223.7,910.8 216.7,903.8 201.0,891.6 188.8,881.2 171.4,874.2 151.3,869.8 166.1,846.3 161.8,841.1 192.3,806.2 183.6,809.7 147.0,777.5 140.0,775.7" fill="#e7e6f3" style="stroke:none"/>
<polygon points="140.0,740.0 159.2,740.0 153.1,745.2 140.0,750.5" fill="#d6d3eb" style="stroke:none"/>
<path d="M159.2,740.0L153.1,745.2L140.0,750.5" fill="none"/>
<polygon points="140.0,750.5 153.1,745.2 164.4,755.7 147.0,777.5 140.0,775.7" fill="#d6d3eb" style="stroke:none"/>
<path d="M140.0,750.5L153.1,745.2L164.4,755.7L147.0,777.5L140.0,775.7" fill="none"/>
<polygon points="153.1,745.2 159.2,740.0 192.3,740.0 201.0,749.6 183.6,771.4 164.4,755.7" fill="#c2bee2" style="stroke:none"/>
<path d="M153.1,745.2L159.2,740.0M192.3,740.0L201.0,749.6L183.6,771.4L164.4,755.7L153.1,745.2" fill="none"/>
<polyline points="175.7,743.5 194.0,757.4" fill="none"/>
<polyline points="180.1,740.0 170.5,750.5" fill="none"/>
<polygon points="147.0,777.5 164.4,755.7 183.6,771.4 166.1,793.2" fill="#d6d3eb"/>
<polygon points="166.1,793.2 183.6,771.4 195.8,780.1 177.5,801.9" fill="#9f9acf"/>
<polygon points="177.5,801.9 195.8,780.1 204.5,786.2 184.4,809.7" fill="#9f9acf"/>
<polygon points="183.6,771.4 201.0,749.6 212.3,757.4 195.8,780.1" fill="#9f9acf"/>
<polygon points="195.8,780.1 212.3,757.4 221.9,763.5 204.5,786.2" fill="#9f9acf"/>
<polygon points="192.3,740.0 204.5,740.0 223.7,753.9 221.9,763.5 212.3,757.4 201.0,749.6" fill="#f8f7fb" style="stroke:none"/>
<path d="M204.5,740.0L223.7,753.9L221.9,763.5L212.3,757.4L201.0,749.6L192.3,740.0" fill="none"/>
<polygon points="221.9,763.5 244.6,740.0 250.7,740.0 238.5,807.1 234.1,794.0" fill="#e7e6f3" style="stroke:none"/>
<path d="M221.9,763.5L244.6,740.0M250.7,740.0L238.5,807.1L234.1,794.0L221.9,763.5" fill="none"/>
<polygon points="211.5,777.5 221.9,763.5 234.1,794.0 230.6,797.5" fill="#d6d3eb"/>
<polygon points="204.5,786.2 211.5,777.5 230.6,797.5 221.0,807.1" fill="#f8f7fb"/>
<polygon points="192.3,805.4 204.5,786.2 221.0,807.1 211.5,818.4" fill="#ffffff"/>
<polygon points="211.5,818.4 230.6,794.0 235.0,795.8 236.7,808.8 228.9,828.0" fill="#f6edec"/>
<polygon points="250.7,740.0 269.0,740.0 258.5,752.2 269.0,760.9 254.2,762.7 248.9,750.5" fill="#e7e6f3" style="stroke:none"/>
<path d="M269.0,740.0L258.5,752.2L269.0,760.9L254.2,762.7L248.9,750.5L250.7,740.0" fill="none"/>
<polygon points="242.8,771.4 251.5,759.2 269.0,774.0 255.0,789.7" fill="#ffffff"/>
<polygon points="238.5,807.1 242.8,771.4 255.0,789.7 265.5,799.3 253.3,813.2 242.8,805.4" fill="#d6d3eb"/>
<polygon points="228.9,828.0 236.7,808.8 242.8,805.4 253.3,813.2 248.9,821.0 255.0,827.1 251.5,832.4 242.8,827.1 237.6,834.1" fill="#d6d3eb"/>
<polygon points="161.8,841.1 192.3,806.2 200.1,811.5 172.2,846.3" fill="#e7e6f3"/>
<polygon points="172.2,846.3 200.1,811.5 211.5,819.3 190.5,848.1 181.8,855.0" fill="#d6d3eb"/>
<polygon points="151.3,869.8 166.1,846.3 181.8,855.9 171.4,874.2" fill="#9f9acf"/>
<polygon points="190.5,848.1 211.5,819.3 221.9,825.4 201.0,855.9" fill="#d6d3eb"/>
<polygon points="171.4,874.2 181.8,855.9 190.5,848.1 201.0,855.9 192.3,869.0 194.0,874.2 188.8,881.2" fill="#d6d3eb"/>
<polygon points="188.8,881.2 194.0,874.2 192.3,869.0 201.0,855.9 209.7,862.0 208.0,872.5 199.3,886.4" fill="#e7e6f3"/>
<polygon points="201.0,855.9 221.9,825.4 232.4,831.5 209.7,862.0" fill="#e7e6f3"/>
<polygon points="209.7,862.0 232.4,831.5 242.8,838.5 223.7,865.5 227.1,868.1 216.7,879.4 208.0,872.5" fill="#d6d3eb"/>
<polygon points="223.7,865.5 242.8,838.5 251.5,833.2 260.3,842.8 237.6,872.5" fill="#e7e6f3"/>
<polygon points="237.6,872.5 260.3,842.8 270.7,851.5 249.8,877.7" fill="#d6d3eb"/>
<polygon points="199.3,886.4 208.0,872.5 216.7,879.4 206.2,893.4" fill="#e7e6f3"/>
<polygon points="206.2,893.4 216.7,879.4 227.1,868.1 237.6,872.5 216.7,903.8" fill="#d6d3eb"/>
<polygon points="216.7,903.8 237.6,872.5 249.8,877.7 230.6,900.3 228.9,903.8 223.7,910.8" fill="#c2bee2"/>
<polygon points="223.7,910.8 228.9,903.8 230.6,900.3 253.3,881.2 260.3,886.4 237.6,914.3 230.6,923.0" fill="#f8f7fb"/>
<polygon points="230.6,923.0 237.6,914.3 251.5,897.7 260.3,907.3 255.0,914.3 260.3,919.5 241.1,931.9 235.9,931.9" fill="#d6d3eb" style="stroke:none"/>
<path d="M230.6,923.0L237.6,914.3L251.5,897.7L260.3,907.3L255.0,914.3L260.3,919.5L241.1,931.9M235.9,931.9L230.6,923.0" fill="none"/>
<polygon points="141.2,777.3 147.0,777.5 183.6,809.7 192.3,806.2 161.8,841.1 166.1,846.3 151.3,869.8 142.4,865.5 143.5,852.4 136.9,847.0 141.2,840.4 127.1,827.3" fill="#ffffff"/></g>
<rect x="102" y="74.5" width="193" height="39" fill="url(#lg)"/>
<g><path style="stroke:#fff;stroke-width:0.8" d="M118,74v4M118,109v4M164,74v4M164,109v4M210,74v4M210,109v4M255,74v4M255,109v4"/></g>
<text class="t" x="98.6" y="139" font-size="18.2" textLength="40" lengthAdjust="spacingAndGlyphs">−0.4</text>
<text class="t" x="144.4" y="139" font-size="18.2" textLength="40" lengthAdjust="spacingAndGlyphs">−0.2</text>
<text class="t" x="194.7" y="139" font-size="18.2" textLength="29.4" lengthAdjust="spacingAndGlyphs">0.0</text>
<text class="t" x="241.3" y="139" font-size="18.2" textLength="28.6" lengthAdjust="spacingAndGlyphs">0.2</text>
<text class="t" x="378.5" y="515.3" font-size="23.6" text-anchor="middle">Prospect</text>
<text class="t" x="378.5" y="550" font-size="23.6" text-anchor="middle">Park</text>
</svg>
</body></html>
